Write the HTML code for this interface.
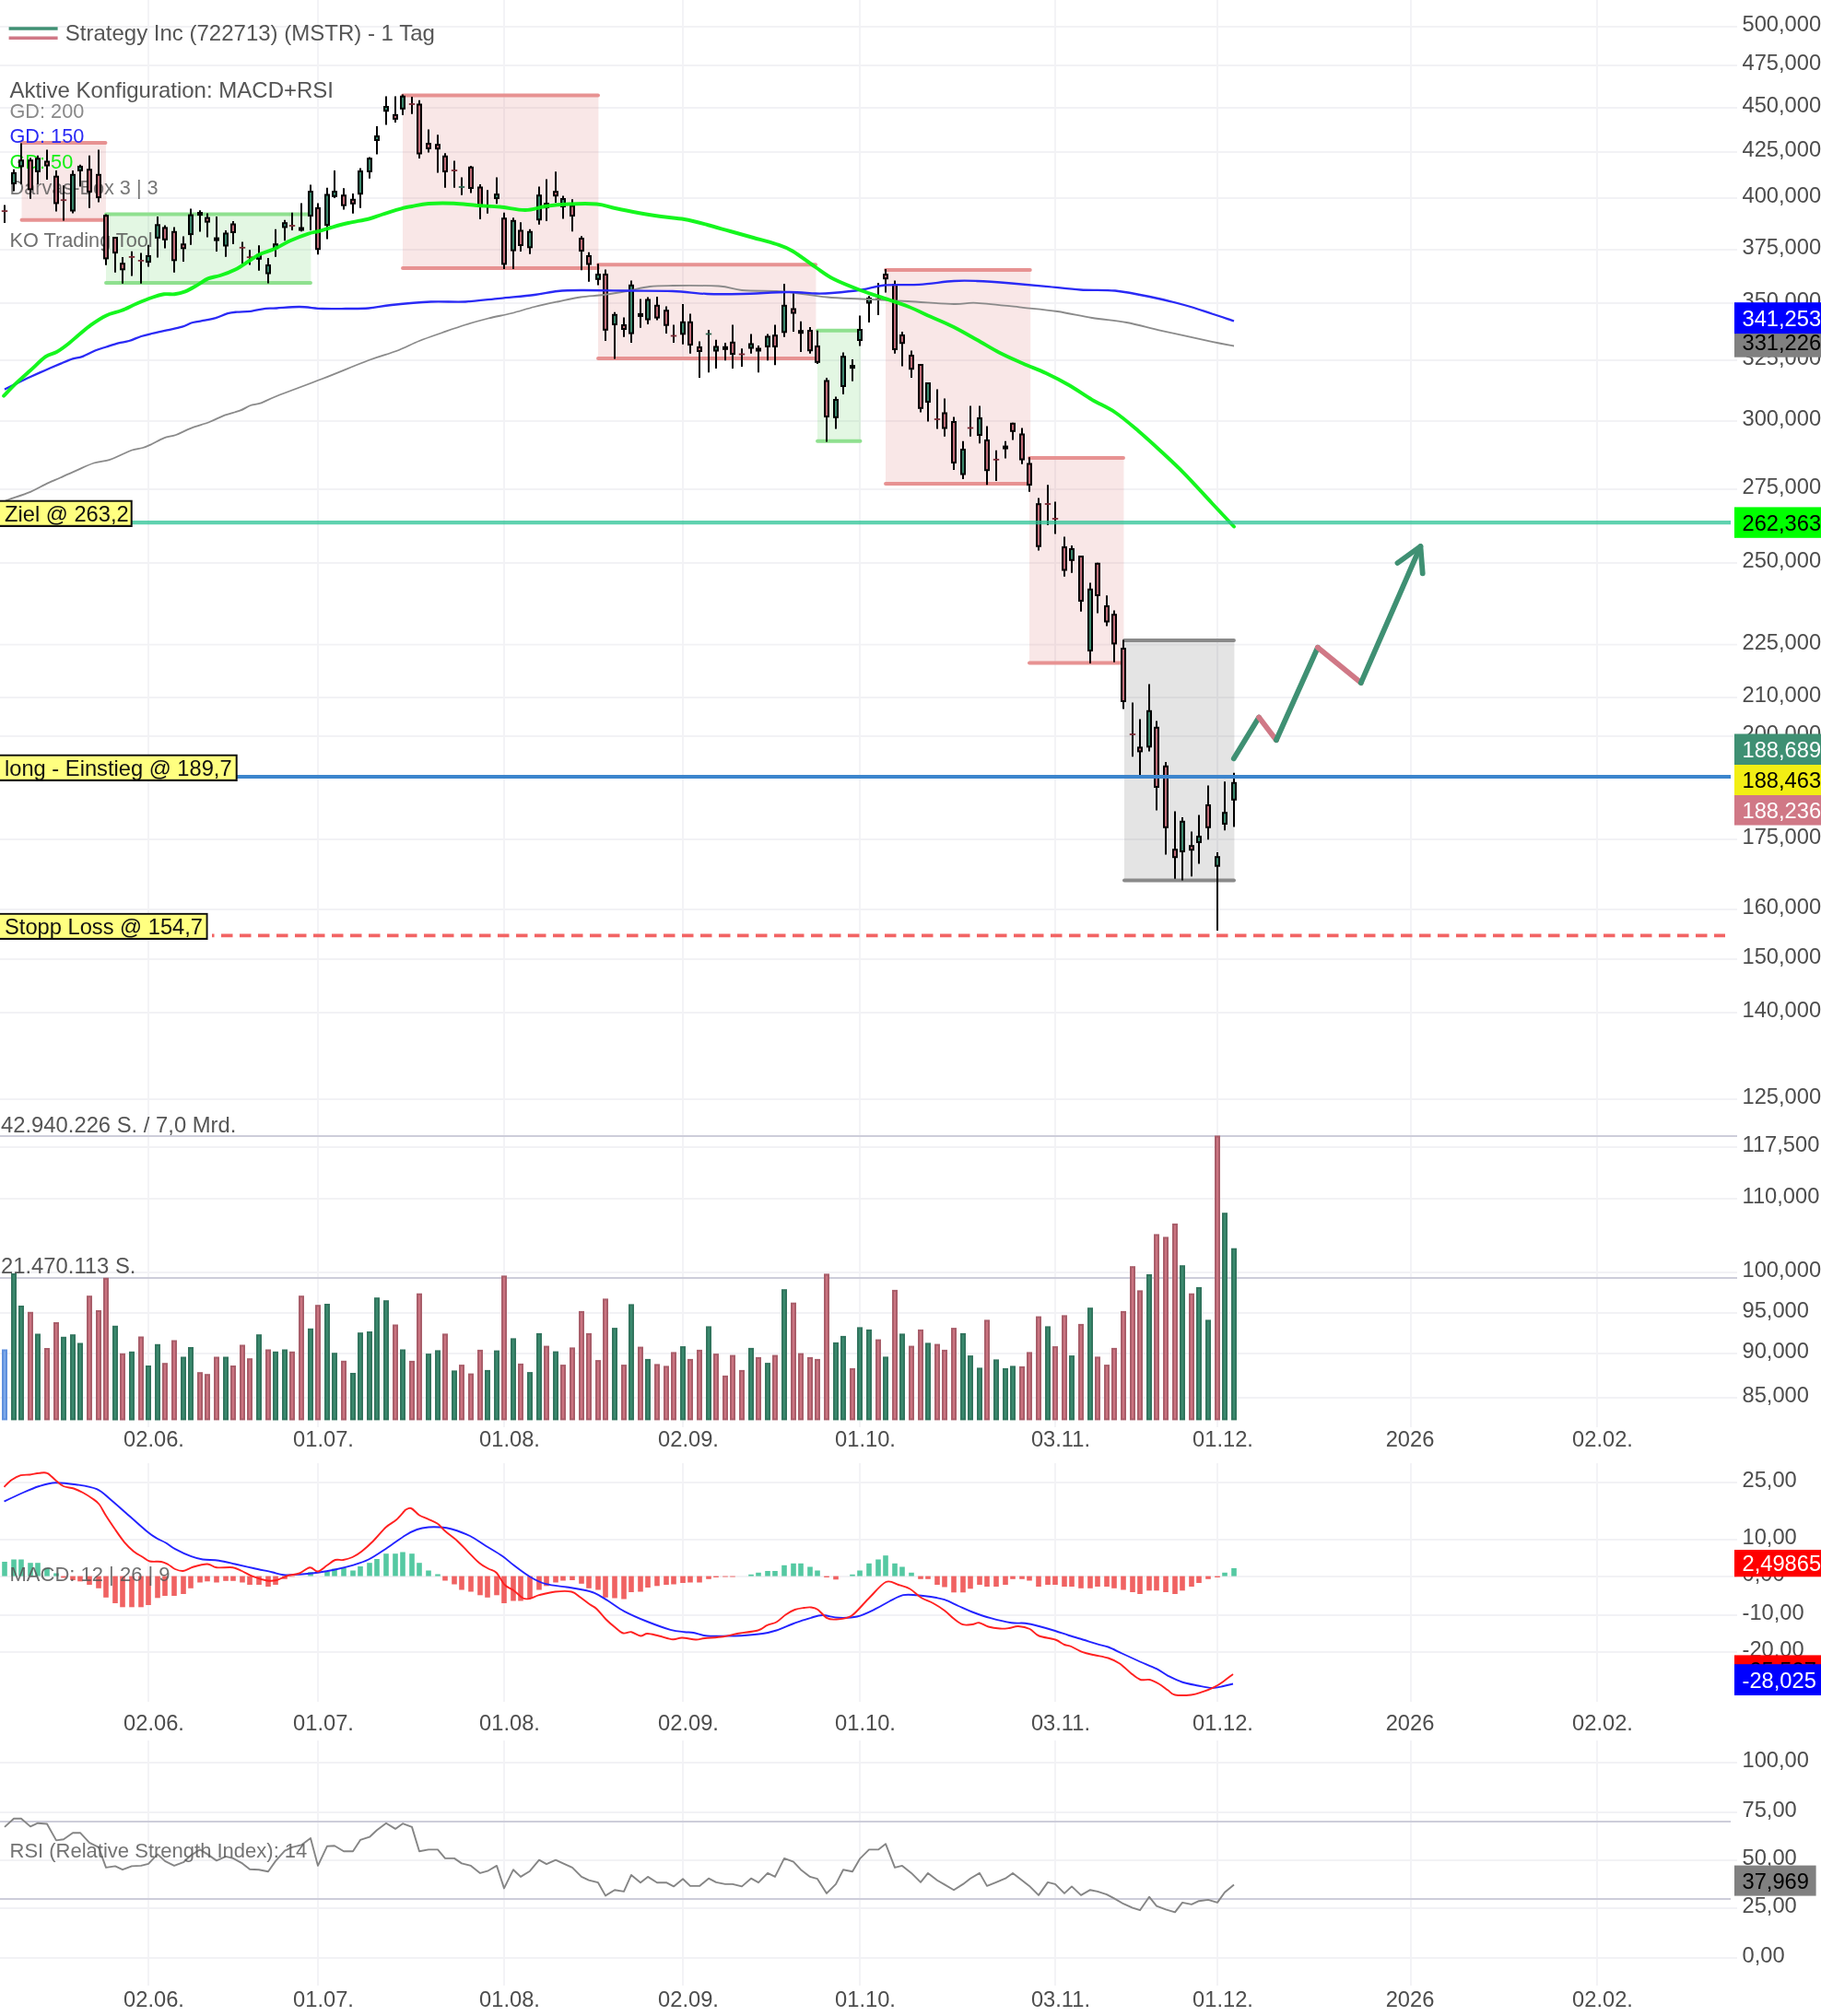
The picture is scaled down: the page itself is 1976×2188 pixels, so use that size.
<!DOCTYPE html>
<html lang="de"><head><meta charset="utf-8"><title>Strategy Inc (MSTR) Chart</title>
<style>html,body{margin:0;padding:0;background:#fff;}body{width:1976px;height:2188px;overflow:hidden;position:relative;}#chart{position:absolute;left:0;top:0;width:1976px;height:2188px;overflow:hidden;}#chart>svg{display:block;position:absolute;left:-10px;top:-10px;filter:blur(0.7px);}</style>
</head><body>
<div id="chart">
<svg width="1996" height="2208" viewBox="-10 -10 1996 2208">
<rect x="-10" y="-10" width="1996" height="2208" fill="#fff"/>
<g stroke="#f2f2f5" stroke-width="1.8" fill="none">
<line x1="-10" y1="29.0" x2="1885" y2="29.0"/>
<line x1="-10" y1="71.0" x2="1885" y2="71.0"/>
<line x1="-10" y1="117.0" x2="1885" y2="117.0"/>
<line x1="-10" y1="165.0" x2="1885" y2="165.0"/>
<line x1="-10" y1="215.0" x2="1885" y2="215.0"/>
<line x1="-10" y1="271.0" x2="1885" y2="271.0"/>
<line x1="-10" y1="329.0" x2="1885" y2="329.0"/>
<line x1="-10" y1="391.0" x2="1885" y2="391.0"/>
<line x1="-10" y1="457.0" x2="1885" y2="457.0"/>
<line x1="-10" y1="531.0" x2="1885" y2="531.0"/>
<line x1="-10" y1="611.0" x2="1885" y2="611.0"/>
<line x1="-10" y1="699.6" x2="1885" y2="699.6"/>
<line x1="-10" y1="757.0" x2="1885" y2="757.0"/>
<line x1="-10" y1="799.0" x2="1885" y2="799.0"/>
<line x1="-10" y1="911.0" x2="1885" y2="911.0"/>
<line x1="-10" y1="987.0" x2="1885" y2="987.0"/>
<line x1="-10" y1="1041.0" x2="1885" y2="1041.0"/>
<line x1="-10" y1="1099.0" x2="1885" y2="1099.0"/>
<line x1="-10" y1="1193.0" x2="1885" y2="1193.0"/>
<line x1="-10" y1="1245.0" x2="1885" y2="1245.0"/>
<line x1="-10" y1="1301.0" x2="1885" y2="1301.0"/>
<line x1="-10" y1="1381.0" x2="1885" y2="1381.0"/>
<line x1="-10" y1="1425.0" x2="1885" y2="1425.0"/>
<line x1="-10" y1="1469.0" x2="1885" y2="1469.0"/>
<line x1="-10" y1="1517.0" x2="1885" y2="1517.0"/>
<line x1="161" y1="-10" x2="161" y2="1549"/>
<line x1="161" y1="1588" x2="161" y2="1847"/>
<line x1="161" y1="1889" x2="161" y2="2155"/>
<line x1="345" y1="-10" x2="345" y2="1549"/>
<line x1="345" y1="1588" x2="345" y2="1847"/>
<line x1="345" y1="1889" x2="345" y2="2155"/>
<line x1="547" y1="-10" x2="547" y2="1549"/>
<line x1="547" y1="1588" x2="547" y2="1847"/>
<line x1="547" y1="1889" x2="547" y2="2155"/>
<line x1="741" y1="-10" x2="741" y2="1549"/>
<line x1="741" y1="1588" x2="741" y2="1847"/>
<line x1="741" y1="1889" x2="741" y2="2155"/>
<line x1="933" y1="-10" x2="933" y2="1549"/>
<line x1="933" y1="1588" x2="933" y2="1847"/>
<line x1="933" y1="1889" x2="933" y2="2155"/>
<line x1="1145" y1="-10" x2="1145" y2="1549"/>
<line x1="1145" y1="1588" x2="1145" y2="1847"/>
<line x1="1145" y1="1889" x2="1145" y2="2155"/>
<line x1="1321" y1="-10" x2="1321" y2="1549"/>
<line x1="1321" y1="1588" x2="1321" y2="1847"/>
<line x1="1321" y1="1889" x2="1321" y2="2155"/>
<line x1="1531" y1="-10" x2="1531" y2="1549"/>
<line x1="1531" y1="1588" x2="1531" y2="1847"/>
<line x1="1531" y1="1889" x2="1531" y2="2155"/>
<line x1="1733" y1="-10" x2="1733" y2="1549"/>
<line x1="1733" y1="1588" x2="1733" y2="1847"/>
<line x1="1733" y1="1889" x2="1733" y2="2155"/>
<line x1="-10" y1="1609.0" x2="1885" y2="1609.0"/>
<line x1="-10" y1="1671.0" x2="1885" y2="1671.0"/>
<line x1="-10" y1="1711.0" x2="1885" y2="1711.0"/>
<line x1="-10" y1="1753.0" x2="1885" y2="1753.0"/>
<line x1="-10" y1="1793.0" x2="1885" y2="1793.0"/>
<line x1="-10" y1="1913.0" x2="1885" y2="1913.0"/>
<line x1="-10" y1="1967.0" x2="1885" y2="1967.0"/>
<line x1="-10" y1="2019.0" x2="1885" y2="2019.0"/>
<line x1="-10" y1="2071.0" x2="1885" y2="2071.0"/>
<line x1="-10" y1="2125.0" x2="1885" y2="2125.0"/>
</g>
<g stroke="#cdcdda" stroke-width="2">
<line x1="-10" y1="1233" x2="1885" y2="1233"/>
<line x1="-10" y1="1387" x2="1885" y2="1387"/>
<line x1="-10" y1="1977.0" x2="1878" y2="1977.0"/>
<line x1="-10" y1="2061.0" x2="1878" y2="2061.0"/>
</g>
<rect x="23.5" y="155.0" width="91.4" height="83.8" fill="rgba(214,96,96,0.15)"/>
<rect x="115.0" y="232.5" width="222.4" height="74.5" fill="rgba(68,202,68,0.15)"/>
<rect x="437.0" y="103.5" width="212.4" height="187.5" fill="rgba(214,96,96,0.15)"/>
<rect x="649.0" y="287.3" width="236.4" height="101.7" fill="rgba(214,96,96,0.15)"/>
<rect x="887.0" y="358.8" width="46.9" height="120.0" fill="rgba(68,202,68,0.15)"/>
<rect x="961.0" y="293.0" width="157.2" height="232.0" fill="rgba(214,96,96,0.15)"/>
<rect x="1117.0" y="497.0" width="102.4" height="222.5" fill="rgba(214,96,96,0.15)"/>
<rect x="1220.0" y="695.0" width="119.4" height="260.5" fill="rgba(75,75,75,0.15)"/>
<g stroke="#e79292" stroke-width="3.9" stroke-linecap="round"><line x1="23.5" y1="155.0" x2="114.5" y2="155.0"/><line x1="23.5" y1="238.8" x2="114.5" y2="238.8"/></g>
<g stroke="#8fe08f" stroke-width="3.9" stroke-linecap="round"><line x1="115.0" y1="232.5" x2="337.0" y2="232.5"/><line x1="115.0" y1="307.0" x2="337.0" y2="307.0"/></g>
<g stroke="#e79292" stroke-width="3.9" stroke-linecap="round"><line x1="437.0" y1="103.5" x2="649.0" y2="103.5"/><line x1="437.0" y1="291.0" x2="649.0" y2="291.0"/></g>
<g stroke="#e79292" stroke-width="3.9" stroke-linecap="round"><line x1="649.0" y1="287.3" x2="885.0" y2="287.3"/><line x1="649.0" y1="389.0" x2="885.0" y2="389.0"/></g>
<g stroke="#8fe08f" stroke-width="3.9" stroke-linecap="round"><line x1="887.0" y1="358.8" x2="933.5" y2="358.8"/><line x1="887.0" y1="478.8" x2="933.5" y2="478.8"/></g>
<g stroke="#e79292" stroke-width="3.9" stroke-linecap="round"><line x1="961.0" y1="293.0" x2="1117.8" y2="293.0"/><line x1="961.0" y1="525.0" x2="1117.8" y2="525.0"/></g>
<g stroke="#e79292" stroke-width="3.9" stroke-linecap="round"><line x1="1117.0" y1="497.0" x2="1219.0" y2="497.0"/><line x1="1117.0" y1="719.5" x2="1219.0" y2="719.5"/></g>
<g stroke="#8a8a8a" stroke-width="3.9" stroke-linecap="round"><line x1="1220.0" y1="695.0" x2="1339.0" y2="695.0"/><line x1="1220.0" y1="955.5" x2="1339.0" y2="955.5"/></g>
<rect x="3.0" y="1465.5" width="4" height="74.9" fill="#7ba7e8" stroke="#5f90dd" stroke-width="2"/>
<rect x="13.0" y="1383.0" width="4" height="157.4" fill="#3a8a6e" stroke="#32755e" stroke-width="2"/>
<rect x="21.0" y="1418.0" width="4" height="122.4" fill="#3a8a6e" stroke="#32755e" stroke-width="2"/>
<rect x="31.0" y="1424.8" width="4" height="115.7" fill="#cb7380" stroke="#a95e6a" stroke-width="2"/>
<rect x="39.0" y="1448.5" width="4" height="91.9" fill="#3a8a6e" stroke="#32755e" stroke-width="2"/>
<rect x="49.0" y="1464.0" width="4" height="76.4" fill="#cb7380" stroke="#a95e6a" stroke-width="2"/>
<rect x="59.0" y="1436.0" width="4" height="104.4" fill="#cb7380" stroke="#a95e6a" stroke-width="2"/>
<rect x="67.0" y="1451.8" width="4" height="88.7" fill="#3a8a6e" stroke="#32755e" stroke-width="2"/>
<rect x="77.0" y="1449.2" width="4" height="91.2" fill="#3a8a6e" stroke="#32755e" stroke-width="2"/>
<rect x="85.0" y="1458.5" width="4" height="81.9" fill="#3a8a6e" stroke="#32755e" stroke-width="2"/>
<rect x="95.0" y="1407.2" width="4" height="133.2" fill="#cb7380" stroke="#a95e6a" stroke-width="2"/>
<rect x="105.0" y="1423.0" width="4" height="117.4" fill="#cb7380" stroke="#a95e6a" stroke-width="2"/>
<rect x="113.0" y="1387.8" width="4" height="152.7" fill="#cb7380" stroke="#a95e6a" stroke-width="2"/>
<rect x="123.0" y="1439.8" width="4" height="100.7" fill="#3a8a6e" stroke="#32755e" stroke-width="2"/>
<rect x="131.0" y="1469.8" width="4" height="70.7" fill="#cb7380" stroke="#a95e6a" stroke-width="2"/>
<rect x="141.0" y="1467.8" width="4" height="72.7" fill="#3a8a6e" stroke="#32755e" stroke-width="2"/>
<rect x="151.0" y="1451.5" width="4" height="88.9" fill="#cb7380" stroke="#a95e6a" stroke-width="2"/>
<rect x="159.0" y="1483.0" width="4" height="57.4" fill="#3a8a6e" stroke="#32755e" stroke-width="2"/>
<rect x="169.0" y="1459.8" width="4" height="80.7" fill="#3a8a6e" stroke="#32755e" stroke-width="2"/>
<rect x="177.0" y="1480.2" width="4" height="60.2" fill="#cb7380" stroke="#a95e6a" stroke-width="2"/>
<rect x="187.0" y="1455.5" width="4" height="84.9" fill="#cb7380" stroke="#a95e6a" stroke-width="2"/>
<rect x="197.0" y="1473.5" width="4" height="66.9" fill="#3a8a6e" stroke="#32755e" stroke-width="2"/>
<rect x="205.0" y="1463.0" width="4" height="77.4" fill="#3a8a6e" stroke="#32755e" stroke-width="2"/>
<rect x="215.0" y="1490.2" width="4" height="50.2" fill="#cb7380" stroke="#a95e6a" stroke-width="2"/>
<rect x="223.0" y="1492.2" width="4" height="48.2" fill="#cb7380" stroke="#a95e6a" stroke-width="2"/>
<rect x="233.0" y="1473.5" width="4" height="66.9" fill="#cb7380" stroke="#a95e6a" stroke-width="2"/>
<rect x="243.0" y="1473.5" width="4" height="66.9" fill="#3a8a6e" stroke="#32755e" stroke-width="2"/>
<rect x="251.0" y="1483.0" width="4" height="57.4" fill="#cb7380" stroke="#a95e6a" stroke-width="2"/>
<rect x="261.0" y="1460.5" width="4" height="79.9" fill="#cb7380" stroke="#a95e6a" stroke-width="2"/>
<rect x="269.0" y="1475.2" width="4" height="65.2" fill="#cb7380" stroke="#a95e6a" stroke-width="2"/>
<rect x="279.0" y="1449.2" width="4" height="91.2" fill="#3a8a6e" stroke="#32755e" stroke-width="2"/>
<rect x="289.0" y="1465.5" width="4" height="74.9" fill="#cb7380" stroke="#a95e6a" stroke-width="2"/>
<rect x="297.0" y="1467.8" width="4" height="72.7" fill="#3a8a6e" stroke="#32755e" stroke-width="2"/>
<rect x="307.0" y="1465.5" width="4" height="74.9" fill="#3a8a6e" stroke="#32755e" stroke-width="2"/>
<rect x="315.0" y="1467.8" width="4" height="72.7" fill="#cb7380" stroke="#a95e6a" stroke-width="2"/>
<rect x="325.0" y="1407.2" width="4" height="133.2" fill="#cb7380" stroke="#a95e6a" stroke-width="2"/>
<rect x="335.0" y="1442.8" width="4" height="97.7" fill="#3a8a6e" stroke="#32755e" stroke-width="2"/>
<rect x="343.0" y="1417.2" width="4" height="123.2" fill="#cb7380" stroke="#a95e6a" stroke-width="2"/>
<rect x="353.0" y="1416.0" width="4" height="124.4" fill="#3a8a6e" stroke="#32755e" stroke-width="2"/>
<rect x="361.0" y="1469.2" width="4" height="71.2" fill="#3a8a6e" stroke="#32755e" stroke-width="2"/>
<rect x="371.0" y="1477.8" width="4" height="62.7" fill="#cb7380" stroke="#a95e6a" stroke-width="2"/>
<rect x="381.0" y="1491.0" width="4" height="49.4" fill="#3a8a6e" stroke="#32755e" stroke-width="2"/>
<rect x="389.0" y="1447.2" width="4" height="93.2" fill="#3a8a6e" stroke="#32755e" stroke-width="2"/>
<rect x="399.0" y="1446.0" width="4" height="94.4" fill="#3a8a6e" stroke="#32755e" stroke-width="2"/>
<rect x="407.0" y="1409.2" width="4" height="131.2" fill="#3a8a6e" stroke="#32755e" stroke-width="2"/>
<rect x="417.0" y="1412.2" width="4" height="128.2" fill="#3a8a6e" stroke="#32755e" stroke-width="2"/>
<rect x="427.0" y="1438.5" width="4" height="101.9" fill="#cb7380" stroke="#a95e6a" stroke-width="2"/>
<rect x="435.0" y="1465.5" width="4" height="74.9" fill="#3a8a6e" stroke="#32755e" stroke-width="2"/>
<rect x="445.0" y="1477.9" width="4" height="62.5" fill="#cb7380" stroke="#a95e6a" stroke-width="2"/>
<rect x="453.0" y="1404.7" width="4" height="135.7" fill="#cb7380" stroke="#a95e6a" stroke-width="2"/>
<rect x="463.0" y="1470.1" width="4" height="70.3" fill="#3a8a6e" stroke="#32755e" stroke-width="2"/>
<rect x="473.0" y="1466.4" width="4" height="74.0" fill="#3a8a6e" stroke="#32755e" stroke-width="2"/>
<rect x="481.0" y="1448.4" width="4" height="92.0" fill="#cb7380" stroke="#a95e6a" stroke-width="2"/>
<rect x="491.0" y="1488.4" width="4" height="52.0" fill="#3a8a6e" stroke="#32755e" stroke-width="2"/>
<rect x="499.0" y="1482.1" width="4" height="58.3" fill="#cb7380" stroke="#a95e6a" stroke-width="2"/>
<rect x="509.0" y="1491.6" width="4" height="48.8" fill="#cb7380" stroke="#a95e6a" stroke-width="2"/>
<rect x="519.0" y="1465.9" width="4" height="74.5" fill="#cb7380" stroke="#a95e6a" stroke-width="2"/>
<rect x="527.0" y="1487.9" width="4" height="52.5" fill="#3a8a6e" stroke="#32755e" stroke-width="2"/>
<rect x="537.0" y="1466.6" width="4" height="73.8" fill="#3a8a6e" stroke="#32755e" stroke-width="2"/>
<rect x="545.0" y="1385.4" width="4" height="155.0" fill="#cb7380" stroke="#a95e6a" stroke-width="2"/>
<rect x="555.0" y="1453.4" width="4" height="87.0" fill="#3a8a6e" stroke="#32755e" stroke-width="2"/>
<rect x="563.0" y="1480.9" width="4" height="59.5" fill="#cb7380" stroke="#a95e6a" stroke-width="2"/>
<rect x="573.0" y="1490.1" width="4" height="50.3" fill="#3a8a6e" stroke="#32755e" stroke-width="2"/>
<rect x="583.0" y="1447.9" width="4" height="92.5" fill="#3a8a6e" stroke="#32755e" stroke-width="2"/>
<rect x="591.0" y="1461.6" width="4" height="78.8" fill="#cb7380" stroke="#a95e6a" stroke-width="2"/>
<rect x="601.0" y="1467.6" width="4" height="72.8" fill="#3a8a6e" stroke="#32755e" stroke-width="2"/>
<rect x="609.0" y="1482.1" width="4" height="58.3" fill="#cb7380" stroke="#a95e6a" stroke-width="2"/>
<rect x="619.0" y="1463.4" width="4" height="77.0" fill="#cb7380" stroke="#a95e6a" stroke-width="2"/>
<rect x="629.0" y="1423.9" width="4" height="116.5" fill="#cb7380" stroke="#a95e6a" stroke-width="2"/>
<rect x="637.0" y="1447.9" width="4" height="92.5" fill="#cb7380" stroke="#a95e6a" stroke-width="2"/>
<rect x="647.0" y="1477.1" width="4" height="63.3" fill="#cb7380" stroke="#a95e6a" stroke-width="2"/>
<rect x="655.0" y="1410.4" width="4" height="130.0" fill="#cb7380" stroke="#a95e6a" stroke-width="2"/>
<rect x="665.0" y="1442.1" width="4" height="98.3" fill="#3a8a6e" stroke="#32755e" stroke-width="2"/>
<rect x="675.0" y="1482.1" width="4" height="58.3" fill="#cb7380" stroke="#a95e6a" stroke-width="2"/>
<rect x="683.0" y="1416.4" width="4" height="124.0" fill="#3a8a6e" stroke="#32755e" stroke-width="2"/>
<rect x="693.0" y="1462.6" width="4" height="77.8" fill="#cb7380" stroke="#a95e6a" stroke-width="2"/>
<rect x="701.0" y="1475.9" width="4" height="64.5" fill="#3a8a6e" stroke="#32755e" stroke-width="2"/>
<rect x="711.0" y="1481.4" width="4" height="59.0" fill="#cb7380" stroke="#a95e6a" stroke-width="2"/>
<rect x="721.0" y="1483.4" width="4" height="57.0" fill="#cb7380" stroke="#a95e6a" stroke-width="2"/>
<rect x="729.0" y="1468.4" width="4" height="72.0" fill="#cb7380" stroke="#a95e6a" stroke-width="2"/>
<rect x="739.0" y="1462.1" width="4" height="78.3" fill="#3a8a6e" stroke="#32755e" stroke-width="2"/>
<rect x="747.0" y="1475.9" width="4" height="64.5" fill="#cb7380" stroke="#a95e6a" stroke-width="2"/>
<rect x="757.0" y="1465.9" width="4" height="74.5" fill="#cb7380" stroke="#a95e6a" stroke-width="2"/>
<rect x="767.0" y="1440.4" width="4" height="100.0" fill="#3a8a6e" stroke="#32755e" stroke-width="2"/>
<rect x="775.0" y="1470.1" width="4" height="70.3" fill="#cb7380" stroke="#a95e6a" stroke-width="2"/>
<rect x="785.0" y="1493.9" width="4" height="46.5" fill="#cb7380" stroke="#a95e6a" stroke-width="2"/>
<rect x="793.0" y="1471.6" width="4" height="68.8" fill="#cb7380" stroke="#a95e6a" stroke-width="2"/>
<rect x="803.0" y="1487.9" width="4" height="52.5" fill="#cb7380" stroke="#a95e6a" stroke-width="2"/>
<rect x="813.0" y="1463.9" width="4" height="76.5" fill="#3a8a6e" stroke="#32755e" stroke-width="2"/>
<rect x="821.0" y="1473.9" width="4" height="66.5" fill="#cb7380" stroke="#a95e6a" stroke-width="2"/>
<rect x="831.0" y="1480.1" width="4" height="60.3" fill="#3a8a6e" stroke="#32755e" stroke-width="2"/>
<rect x="839.0" y="1471.6" width="4" height="68.8" fill="#cb7380" stroke="#a95e6a" stroke-width="2"/>
<rect x="849.0" y="1400.2" width="4" height="140.2" fill="#3a8a6e" stroke="#32755e" stroke-width="2"/>
<rect x="859.0" y="1414.7" width="4" height="125.7" fill="#cb7380" stroke="#a95e6a" stroke-width="2"/>
<rect x="867.0" y="1469.6" width="4" height="70.8" fill="#cb7380" stroke="#a95e6a" stroke-width="2"/>
<rect x="877.0" y="1473.9" width="4" height="66.5" fill="#cb7380" stroke="#a95e6a" stroke-width="2"/>
<rect x="885.0" y="1475.9" width="4" height="64.5" fill="#cb7380" stroke="#a95e6a" stroke-width="2"/>
<rect x="895.0" y="1383.4" width="4" height="157.0" fill="#cb7380" stroke="#a95e6a" stroke-width="2"/>
<rect x="905.0" y="1457.9" width="4" height="82.5" fill="#3a8a6e" stroke="#32755e" stroke-width="2"/>
<rect x="913.0" y="1450.9" width="4" height="89.5" fill="#3a8a6e" stroke="#32755e" stroke-width="2"/>
<rect x="923.0" y="1485.9" width="4" height="54.5" fill="#cb7380" stroke="#a95e6a" stroke-width="2"/>
<rect x="931.0" y="1441.4" width="4" height="99.0" fill="#3a8a6e" stroke="#32755e" stroke-width="2"/>
<rect x="941.0" y="1443.9" width="4" height="96.5" fill="#3a8a6e" stroke="#32755e" stroke-width="2"/>
<rect x="951.0" y="1454.6" width="4" height="85.8" fill="#cb7380" stroke="#a95e6a" stroke-width="2"/>
<rect x="959.0" y="1473.4" width="4" height="67.0" fill="#3a8a6e" stroke="#32755e" stroke-width="2"/>
<rect x="969.0" y="1400.9" width="4" height="139.5" fill="#cb7380" stroke="#a95e6a" stroke-width="2"/>
<rect x="977.0" y="1448.4" width="4" height="92.0" fill="#3a8a6e" stroke="#32755e" stroke-width="2"/>
<rect x="987.0" y="1461.6" width="4" height="78.8" fill="#cb7380" stroke="#a95e6a" stroke-width="2"/>
<rect x="997.0" y="1443.9" width="4" height="96.5" fill="#cb7380" stroke="#a95e6a" stroke-width="2"/>
<rect x="1005.0" y="1458.4" width="4" height="82.0" fill="#3a8a6e" stroke="#32755e" stroke-width="2"/>
<rect x="1015.0" y="1459.6" width="4" height="80.8" fill="#cb7380" stroke="#a95e6a" stroke-width="2"/>
<rect x="1023.0" y="1465.9" width="4" height="74.5" fill="#cb7380" stroke="#a95e6a" stroke-width="2"/>
<rect x="1033.0" y="1442.1" width="4" height="98.3" fill="#cb7380" stroke="#a95e6a" stroke-width="2"/>
<rect x="1043.0" y="1447.9" width="4" height="92.5" fill="#3a8a6e" stroke="#32755e" stroke-width="2"/>
<rect x="1051.0" y="1472.1" width="4" height="68.3" fill="#3a8a6e" stroke="#32755e" stroke-width="2"/>
<rect x="1061.0" y="1485.4" width="4" height="55.0" fill="#3a8a6e" stroke="#32755e" stroke-width="2"/>
<rect x="1069.0" y="1433.4" width="4" height="107.0" fill="#cb7380" stroke="#a95e6a" stroke-width="2"/>
<rect x="1079.0" y="1476.4" width="4" height="64.0" fill="#3a8a6e" stroke="#32755e" stroke-width="2"/>
<rect x="1089.0" y="1485.9" width="4" height="54.5" fill="#3a8a6e" stroke="#32755e" stroke-width="2"/>
<rect x="1097.0" y="1483.4" width="4" height="57.0" fill="#3a8a6e" stroke="#32755e" stroke-width="2"/>
<rect x="1107.0" y="1483.9" width="4" height="56.5" fill="#cb7380" stroke="#a95e6a" stroke-width="2"/>
<rect x="1115.0" y="1468.4" width="4" height="72.0" fill="#cb7380" stroke="#a95e6a" stroke-width="2"/>
<rect x="1125.0" y="1429.6" width="4" height="110.8" fill="#cb7380" stroke="#a95e6a" stroke-width="2"/>
<rect x="1135.0" y="1440.4" width="4" height="100.0" fill="#3a8a6e" stroke="#32755e" stroke-width="2"/>
<rect x="1143.0" y="1462.1" width="4" height="78.3" fill="#cb7380" stroke="#a95e6a" stroke-width="2"/>
<rect x="1153.0" y="1428.4" width="4" height="112.0" fill="#cb7380" stroke="#a95e6a" stroke-width="2"/>
<rect x="1161.0" y="1472.1" width="4" height="68.3" fill="#3a8a6e" stroke="#32755e" stroke-width="2"/>
<rect x="1171.0" y="1437.9" width="4" height="102.5" fill="#cb7380" stroke="#a95e6a" stroke-width="2"/>
<rect x="1181.0" y="1420.2" width="4" height="120.2" fill="#3a8a6e" stroke="#32755e" stroke-width="2"/>
<rect x="1189.0" y="1473.4" width="4" height="67.0" fill="#cb7380" stroke="#a95e6a" stroke-width="2"/>
<rect x="1199.0" y="1482.1" width="4" height="58.3" fill="#cb7380" stroke="#a95e6a" stroke-width="2"/>
<rect x="1207.0" y="1463.9" width="4" height="76.5" fill="#cb7380" stroke="#a95e6a" stroke-width="2"/>
<rect x="1217.0" y="1423.9" width="4" height="116.5" fill="#cb7380" stroke="#a95e6a" stroke-width="2"/>
<rect x="1227.0" y="1375.2" width="4" height="165.2" fill="#cb7380" stroke="#a95e6a" stroke-width="2"/>
<rect x="1235.0" y="1401.4" width="4" height="139.0" fill="#cb7380" stroke="#a95e6a" stroke-width="2"/>
<rect x="1245.0" y="1383.9" width="4" height="156.5" fill="#3a8a6e" stroke="#32755e" stroke-width="2"/>
<rect x="1253.0" y="1340.4" width="4" height="200.0" fill="#cb7380" stroke="#a95e6a" stroke-width="2"/>
<rect x="1263.0" y="1343.4" width="4" height="197.0" fill="#cb7380" stroke="#a95e6a" stroke-width="2"/>
<rect x="1273.0" y="1328.9" width="4" height="211.5" fill="#cb7380" stroke="#a95e6a" stroke-width="2"/>
<rect x="1281.0" y="1374.2" width="4" height="166.2" fill="#3a8a6e" stroke="#32755e" stroke-width="2"/>
<rect x="1291.0" y="1404.7" width="4" height="135.7" fill="#cb7380" stroke="#a95e6a" stroke-width="2"/>
<rect x="1299.0" y="1397.9" width="4" height="142.5" fill="#3a8a6e" stroke="#32755e" stroke-width="2"/>
<rect x="1309.0" y="1433.4" width="4" height="107.0" fill="#3a8a6e" stroke="#32755e" stroke-width="2"/>
<rect x="1319.0" y="1233.5" width="4" height="306.9" fill="#cb7380" stroke="#a95e6a" stroke-width="2"/>
<rect x="1327.0" y="1317.2" width="4" height="223.2" fill="#3a8a6e" stroke="#32755e" stroke-width="2"/>
<rect x="1337.0" y="1355.7" width="4" height="184.7" fill="#3a8a6e" stroke="#32755e" stroke-width="2"/>
<g font-family='"Liberation Sans", sans-serif'>
<line x1="9.6" y1="31" x2="62.6" y2="31" stroke="#3f9073" stroke-width="3.4"/>
<line x1="9.6" y1="41.2" x2="62.6" y2="41.2" stroke="#d07886" stroke-width="3.4"/>
<text id="t_title" x="70.8" y="44" font-size="24" fill="#555">Strategy Inc (722713) (MSTR) - 1 Tag</text>
<text id="t_akt" x="10.5" y="105.5" font-size="24" fill="#555">Aktive Konfiguration: MACD+RSI</text>
<text id="t_gd200" x="10.5" y="127.5" font-size="21.7" fill="#8a8a8a">GD: 200</text>
<text id="t_gd150" x="10.5" y="155" font-size="21.7" fill="#2a2af5">GD: 150</text>
<text id="t_gd50" x="10.5" y="183" font-size="21.7" fill="#14f014">GD: 50</text>
<text id="t_darvas" x="10.5" y="211" font-size="21.7" fill="#555" fill-opacity="0.8">Darvas-Box 3 | 3</text>
<text id="t_ko" x="10.5" y="267.5" font-size="21.7" fill="#555" fill-opacity="0.85">KO Trading Tool</text>
<text id="t_v1" x="1" y="1228.8" font-size="23.8" fill="#555">42.940.226 S. / 7,0 Mrd.</text>
<text id="t_v2" x="1" y="1382" font-size="23.8" fill="#555">21.470.113 S.</text>
</g>
<g stroke="#000" stroke-width="2" stroke-linecap="butt">
<line x1="5.0" y1="222.6" x2="5.0" y2="242.0"/>
<line x1="1.8" y1="229.1" x2="8.2" y2="229.1" stroke="#7a2a35" stroke-width="1.8"/>
<line x1="15.0" y1="183.8" x2="15.0" y2="207.6"/>
<rect x="13.0" y="187.9" width="4" height="11.1" fill="#3a866b" stroke-width="2"/>
<line x1="23.0" y1="155.6" x2="23.0" y2="200.1"/>
<rect x="21.0" y="174.2" width="4" height="6.1" fill="#3a866b" stroke-width="2"/>
<line x1="33.0" y1="171.3" x2="33.0" y2="215.7"/>
<rect x="31.0" y="174.2" width="4" height="31.2" fill="#be6b77" stroke-width="2"/>
<line x1="41.0" y1="168.8" x2="41.0" y2="200.1"/>
<rect x="39.0" y="172.3" width="4" height="13.6" fill="#3a866b" stroke-width="2"/>
<line x1="51.0" y1="162.5" x2="51.0" y2="195.1"/>
<rect x="49.0" y="175.5" width="4" height="4.0" fill="#be6b77" stroke-width="2"/>
<line x1="61.0" y1="185.1" x2="61.0" y2="229.5"/>
<rect x="59.0" y="191.7" width="4" height="28.7" fill="#be6b77" stroke-width="2"/>
<line x1="69.0" y1="201.3" x2="69.0" y2="239.5"/>
<line x1="65.8" y1="217.2" x2="72.2" y2="217.2" stroke="#7a2a35" stroke-width="1.8"/>
<line x1="79.0" y1="185.1" x2="79.0" y2="231.4"/>
<rect x="77.0" y="189.8" width="4" height="38.7" fill="#3a866b" stroke-width="2"/>
<line x1="87.0" y1="178.8" x2="87.0" y2="202.6"/>
<rect x="85.0" y="180.9" width="4" height="4.0" fill="#3a866b" stroke-width="2"/>
<line x1="97.0" y1="168.8" x2="97.0" y2="225.7"/>
<rect x="95.0" y="184.2" width="4" height="23.7" fill="#be6b77" stroke-width="2"/>
<line x1="107.0" y1="162.5" x2="107.0" y2="219.5"/>
<rect x="105.0" y="189.8" width="4" height="24.3" fill="#be6b77" stroke-width="2"/>
<line x1="115.0" y1="232.6" x2="115.0" y2="287.7"/>
<rect x="113.0" y="234.2" width="4" height="46.2" fill="#be6b77" stroke-width="2"/>
<line x1="125.0" y1="257.0" x2="125.0" y2="295.8"/>
<rect x="123.0" y="258.0" width="4" height="16.1" fill="#be6b77" stroke-width="2"/>
<line x1="133.0" y1="278.9" x2="133.0" y2="307.7"/>
<rect x="131.0" y="286.2" width="4" height="6.1" fill="#be6b77" stroke-width="2"/>
<line x1="143.0" y1="272.7" x2="143.0" y2="299.6"/>
<line x1="139.8" y1="278.9" x2="146.2" y2="278.9" stroke="#7a2a35" stroke-width="1.8"/>
<line x1="153.0" y1="274.5" x2="153.0" y2="307.7"/>
<line x1="149.8" y1="282.9" x2="156.2" y2="282.9" stroke="#7a2a35" stroke-width="1.8"/>
<line x1="161.0" y1="265.8" x2="161.0" y2="289.6"/>
<rect x="159.0" y="278.0" width="4" height="6.1" fill="#3a866b" stroke-width="2"/>
<line x1="171.0" y1="235.1" x2="171.0" y2="279.5"/>
<rect x="169.0" y="244.3" width="4" height="13.6" fill="#3a866b" stroke-width="2"/>
<line x1="179.0" y1="244.5" x2="179.0" y2="269.5"/>
<rect x="177.0" y="247.4" width="4" height="12.4" fill="#be6b77" stroke-width="2"/>
<line x1="189.0" y1="246.4" x2="189.0" y2="295.8"/>
<rect x="187.0" y="251.8" width="4" height="30.5" fill="#be6b77" stroke-width="2"/>
<line x1="199.0" y1="256.4" x2="199.0" y2="283.9"/>
<rect x="197.0" y="265.3" width="4" height="4.0" fill="#be6b77" stroke-width="2"/>
<line x1="207.0" y1="226.4" x2="207.0" y2="265.8"/>
<rect x="205.0" y="233.6" width="4" height="20.5" fill="#3a866b" stroke-width="2"/>
<line x1="217.0" y1="228.2" x2="217.0" y2="251.4"/>
<rect x="215.0" y="231.0" width="4" height="2.0" fill="#000000" stroke-width="2"/>
<line x1="225.0" y1="231.4" x2="225.0" y2="257.6"/>
<rect x="223.0" y="236.6" width="4" height="4.0" fill="#be6b77" stroke-width="2"/>
<line x1="235.0" y1="235.0" x2="235.0" y2="273.0"/>
<rect x="233.0" y="258.6" width="4" height="2.0" fill="#000000" stroke-width="2"/>
<line x1="245.0" y1="250.0" x2="245.0" y2="278.8"/>
<rect x="243.0" y="253.5" width="4" height="13.0" fill="#3a866b" stroke-width="2"/>
<line x1="253.0" y1="240.0" x2="253.0" y2="265.0"/>
<rect x="251.0" y="243.5" width="4" height="8.5" fill="#be6b77" stroke-width="2"/>
<line x1="263.0" y1="262.5" x2="263.0" y2="286.2"/>
<line x1="259.8" y1="268.8" x2="266.2" y2="268.8" stroke="#7a2a35" stroke-width="1.8"/>
<line x1="271.0" y1="271.2" x2="271.0" y2="287.5"/>
<line x1="267.8" y1="279.2" x2="274.2" y2="279.2" stroke="#7a2a35" stroke-width="1.8"/>
<line x1="281.0" y1="266.2" x2="281.0" y2="293.8"/>
<rect x="279.0" y="276.8" width="4" height="4.0" fill="#3a866b" stroke-width="2"/>
<line x1="291.0" y1="280.0" x2="291.0" y2="307.5"/>
<rect x="289.0" y="288.0" width="4" height="8.5" fill="#3a866b" stroke-width="2"/>
<line x1="299.0" y1="248.8" x2="299.0" y2="278.8"/>
<rect x="297.0" y="265.2" width="4" height="4.0" fill="#3a866b" stroke-width="2"/>
<line x1="309.0" y1="238.8" x2="309.0" y2="261.2"/>
<rect x="307.0" y="242.2" width="4" height="4.2" fill="#3a866b" stroke-width="2"/>
<line x1="317.0" y1="230.8" x2="317.0" y2="250.0"/>
<line x1="313.8" y1="245.0" x2="320.2" y2="245.0" stroke="#7a2a35" stroke-width="1.8"/>
<line x1="327.0" y1="220.5" x2="327.0" y2="251.2"/>
<rect x="325.0" y="247.5" width="4" height="2.0" fill="#000000" stroke-width="2"/>
<line x1="337.0" y1="200.5" x2="337.0" y2="250.0"/>
<rect x="335.0" y="208.0" width="4" height="26.0" fill="#3a866b" stroke-width="2"/>
<line x1="345.0" y1="220.5" x2="345.0" y2="276.2"/>
<rect x="343.0" y="226.0" width="4" height="44.2" fill="#be6b77" stroke-width="2"/>
<line x1="355.0" y1="203.8" x2="355.0" y2="259.5"/>
<rect x="353.0" y="211.5" width="4" height="32.5" fill="#3a866b" stroke-width="2"/>
<line x1="363.0" y1="185.0" x2="363.0" y2="215.0"/>
<rect x="361.0" y="208.0" width="4" height="4.8" fill="#3a866b" stroke-width="2"/>
<line x1="373.0" y1="204.2" x2="373.0" y2="227.5"/>
<rect x="371.0" y="212.2" width="4" height="10.5" fill="#be6b77" stroke-width="2"/>
<line x1="383.0" y1="210.0" x2="383.0" y2="231.8"/>
<rect x="381.0" y="216.8" width="4" height="4.0" fill="#be6b77" stroke-width="2"/>
<line x1="391.0" y1="182.5" x2="391.0" y2="225.8"/>
<rect x="389.0" y="186.0" width="4" height="24.2" fill="#3a866b" stroke-width="2"/>
<line x1="401.0" y1="170.5" x2="401.0" y2="193.8"/>
<rect x="399.0" y="172.2" width="4" height="13.8" fill="#3a866b" stroke-width="2"/>
<line x1="409.0" y1="137.0" x2="409.0" y2="167.5"/>
<rect x="407.0" y="148.0" width="4" height="4.0" fill="#3a866b" stroke-width="2"/>
<line x1="419.0" y1="104.5" x2="419.0" y2="135.5"/>
<rect x="417.0" y="116.0" width="4" height="4.2" fill="#3a866b" stroke-width="2"/>
<line x1="429.0" y1="104.5" x2="429.0" y2="133.0"/>
<rect x="427.0" y="124.9" width="4" height="4.0" fill="#be6b77" stroke-width="2"/>
<line x1="437.0" y1="102.5" x2="437.0" y2="125.0"/>
<rect x="435.0" y="104.8" width="4" height="13.0" fill="#3a866b" stroke-width="2"/>
<line x1="447.0" y1="105.0" x2="447.0" y2="123.8"/>
<line x1="443.8" y1="113.0" x2="450.2" y2="113.0" stroke="#7a2a35" stroke-width="1.8"/>
<line x1="455.0" y1="108.8" x2="455.0" y2="172.0"/>
<rect x="453.0" y="113.5" width="4" height="53.0" fill="#be6b77" stroke-width="2"/>
<line x1="465.0" y1="140.5" x2="465.0" y2="165.5"/>
<rect x="463.0" y="156.0" width="4" height="5.0" fill="#be6b77" stroke-width="2"/>
<line x1="475.0" y1="146.2" x2="475.0" y2="187.5"/>
<rect x="473.0" y="157.2" width="4" height="4.0" fill="#be6b77" stroke-width="2"/>
<line x1="483.0" y1="166.2" x2="483.0" y2="203.8"/>
<rect x="481.0" y="169.8" width="4" height="16.2" fill="#be6b77" stroke-width="2"/>
<line x1="493.0" y1="174.5" x2="493.0" y2="203.8"/>
<line x1="489.8" y1="185.0" x2="496.2" y2="185.0" stroke="#7a2a35" stroke-width="1.8"/>
<line x1="501.0" y1="192.5" x2="501.0" y2="211.8"/>
<line x1="497.8" y1="203.0" x2="504.2" y2="203.0" stroke="#2d6650" stroke-width="1.8"/>
<line x1="511.0" y1="180.0" x2="511.0" y2="209.5"/>
<rect x="509.0" y="181.8" width="4" height="22.2" fill="#be6b77" stroke-width="2"/>
<line x1="521.0" y1="200.0" x2="521.0" y2="238.0"/>
<rect x="519.0" y="203.5" width="4" height="20.5" fill="#be6b77" stroke-width="2"/>
<line x1="529.0" y1="206.2" x2="529.0" y2="231.8"/>
<line x1="525.8" y1="224.2" x2="532.2" y2="224.2" stroke="#7a2a35" stroke-width="1.8"/>
<line x1="539.0" y1="192.5" x2="539.0" y2="221.2"/>
<rect x="537.0" y="211.1" width="4" height="4.0" fill="#3a866b" stroke-width="2"/>
<line x1="547.0" y1="230.8" x2="547.0" y2="292.0"/>
<rect x="545.0" y="237.2" width="4" height="49.2" fill="#be6b77" stroke-width="2"/>
<line x1="557.0" y1="236.2" x2="557.0" y2="292.0"/>
<rect x="555.0" y="239.8" width="4" height="31.8" fill="#3a866b" stroke-width="2"/>
<line x1="565.0" y1="241.2" x2="565.0" y2="273.0"/>
<rect x="563.0" y="250.5" width="4" height="15.5" fill="#be6b77" stroke-width="2"/>
<line x1="575.0" y1="248.8" x2="575.0" y2="275.8"/>
<rect x="573.0" y="251.8" width="4" height="16.5" fill="#3a866b" stroke-width="2"/>
<line x1="585.0" y1="202.5" x2="585.0" y2="243.8"/>
<rect x="583.0" y="212.2" width="4" height="26.0" fill="#3a866b" stroke-width="2"/>
<line x1="593.0" y1="194.5" x2="593.0" y2="240.0"/>
<rect x="591.0" y="221.1" width="4" height="4.0" fill="#3a866b" stroke-width="2"/>
<line x1="603.0" y1="186.2" x2="603.0" y2="220.0"/>
<rect x="601.0" y="208.2" width="4" height="4.0" fill="#be6b77" stroke-width="2"/>
<line x1="611.0" y1="212.5" x2="611.0" y2="237.5"/>
<rect x="609.0" y="216.0" width="4" height="8.0" fill="#3a866b" stroke-width="2"/>
<line x1="621.0" y1="216.2" x2="621.0" y2="251.2"/>
<rect x="619.0" y="223.5" width="4" height="10.5" fill="#be6b77" stroke-width="2"/>
<line x1="631.0" y1="256.2" x2="631.0" y2="293.2"/>
<rect x="629.0" y="259.0" width="4" height="13.0" fill="#be6b77" stroke-width="2"/>
<line x1="639.0" y1="273.8" x2="639.0" y2="305.8"/>
<rect x="637.0" y="278.0" width="4" height="8.5" fill="#be6b77" stroke-width="2"/>
<line x1="649.0" y1="286.2" x2="649.0" y2="309.5"/>
<rect x="647.0" y="298.0" width="4" height="4.8" fill="#3a866b" stroke-width="2"/>
<line x1="657.0" y1="292.5" x2="657.0" y2="370.0"/>
<rect x="655.0" y="298.0" width="4" height="59.8" fill="#be6b77" stroke-width="2"/>
<line x1="667.0" y1="338.8" x2="667.0" y2="389.5"/>
<rect x="665.0" y="341.8" width="4" height="10.2" fill="#3a866b" stroke-width="2"/>
<line x1="677.0" y1="344.5" x2="677.0" y2="365.8"/>
<rect x="675.0" y="353.0" width="4" height="4.0" fill="#be6b77" stroke-width="2"/>
<line x1="685.0" y1="304.5" x2="685.0" y2="372.0"/>
<rect x="683.0" y="309.8" width="4" height="51.8" fill="#3a866b" stroke-width="2"/>
<line x1="695.0" y1="324.5" x2="695.0" y2="355.8"/>
<rect x="693.0" y="340.9" width="4" height="2.0" fill="#000000" stroke-width="2"/>
<line x1="703.0" y1="322.5" x2="703.0" y2="352.0"/>
<rect x="701.0" y="325.5" width="4" height="21.0" fill="#3a866b" stroke-width="2"/>
<line x1="713.0" y1="322.0" x2="713.0" y2="347.5"/>
<rect x="711.0" y="331.8" width="4" height="12.8" fill="#be6b77" stroke-width="2"/>
<line x1="723.0" y1="332.5" x2="723.0" y2="362.0"/>
<rect x="721.0" y="337.2" width="4" height="15.5" fill="#be6b77" stroke-width="2"/>
<line x1="731.0" y1="352.5" x2="731.0" y2="372.0"/>
<line x1="727.8" y1="364.5" x2="734.2" y2="364.5" stroke="#7a2a35" stroke-width="1.8"/>
<line x1="741.0" y1="330.0" x2="741.0" y2="373.8"/>
<rect x="739.0" y="349.8" width="4" height="12.5" fill="#3a866b" stroke-width="2"/>
<line x1="749.0" y1="340.5" x2="749.0" y2="383.8"/>
<rect x="747.0" y="349.8" width="4" height="24.2" fill="#be6b77" stroke-width="2"/>
<line x1="759.0" y1="370.5" x2="759.0" y2="410.0"/>
<rect x="757.0" y="377.0" width="4" height="4.0" fill="#be6b77" stroke-width="2"/>
<line x1="769.0" y1="358.0" x2="769.0" y2="404.2"/>
<line x1="765.8" y1="362.5" x2="772.2" y2="362.5" stroke="#2d6650" stroke-width="1.8"/>
<line x1="777.0" y1="368.8" x2="777.0" y2="400.0"/>
<rect x="775.0" y="376.5" width="4" height="4.0" fill="#3a866b" stroke-width="2"/>
<line x1="787.0" y1="372.0" x2="787.0" y2="391.2"/>
<rect x="785.0" y="376.8" width="4" height="2.0" fill="#000000" stroke-width="2"/>
<line x1="795.0" y1="352.5" x2="795.0" y2="400.0"/>
<rect x="793.0" y="371.8" width="4" height="12.2" fill="#be6b77" stroke-width="2"/>
<line x1="805.0" y1="378.2" x2="805.0" y2="398.0"/>
<line x1="801.8" y1="384.5" x2="808.2" y2="384.5" stroke="#7a2a35" stroke-width="1.8"/>
<line x1="815.0" y1="362.5" x2="815.0" y2="383.8"/>
<rect x="813.0" y="373.5" width="4" height="4.0" fill="#3a866b" stroke-width="2"/>
<line x1="823.0" y1="375.0" x2="823.0" y2="404.2"/>
<rect x="821.0" y="378.5" width="4" height="2.0" fill="#000000" stroke-width="2"/>
<line x1="833.0" y1="362.5" x2="833.0" y2="391.2"/>
<rect x="831.0" y="365.5" width="4" height="10.5" fill="#3a866b" stroke-width="2"/>
<line x1="841.0" y1="352.5" x2="841.0" y2="396.2"/>
<rect x="839.0" y="364.2" width="4" height="11.8" fill="#be6b77" stroke-width="2"/>
<line x1="851.0" y1="308.0" x2="851.0" y2="365.8"/>
<rect x="849.0" y="331.8" width="4" height="28.5" fill="#3a866b" stroke-width="2"/>
<line x1="861.0" y1="317.5" x2="861.0" y2="360.0"/>
<rect x="859.0" y="335.5" width="4" height="4.0" fill="#be6b77" stroke-width="2"/>
<line x1="869.0" y1="348.8" x2="869.0" y2="382.0"/>
<rect x="867.0" y="359.2" width="4" height="2.0" fill="#000000" stroke-width="2"/>
<line x1="879.0" y1="355.0" x2="879.0" y2="383.8"/>
<rect x="877.0" y="359.0" width="4" height="21.2" fill="#be6b77" stroke-width="2"/>
<line x1="887.0" y1="358.8" x2="887.0" y2="395.0"/>
<rect x="885.0" y="376.0" width="4" height="16.8" fill="#be6b77" stroke-width="2"/>
<line x1="897.0" y1="410.0" x2="897.0" y2="479.5"/>
<rect x="895.0" y="413.5" width="4" height="38.5" fill="#be6b77" stroke-width="2"/>
<line x1="907.0" y1="430.5" x2="907.0" y2="465.5"/>
<rect x="905.0" y="434.0" width="4" height="18.8" fill="#3a866b" stroke-width="2"/>
<line x1="915.0" y1="382.5" x2="915.0" y2="428.0"/>
<rect x="913.0" y="387.2" width="4" height="31.8" fill="#3a866b" stroke-width="2"/>
<line x1="925.0" y1="390.0" x2="925.0" y2="413.8"/>
<rect x="923.0" y="397.1" width="4" height="2.0" fill="#000000" stroke-width="2"/>
<line x1="933.0" y1="342.5" x2="933.0" y2="375.5"/>
<rect x="931.0" y="358.0" width="4" height="11.0" fill="#3a866b" stroke-width="2"/>
<line x1="943.0" y1="321.2" x2="943.0" y2="350.0"/>
<rect x="941.0" y="324.0" width="4" height="4.5" fill="#3a866b" stroke-width="2"/>
<line x1="953.0" y1="307.0" x2="953.0" y2="342.0"/>
<line x1="949.8" y1="324.5" x2="956.2" y2="324.5" stroke="#7a2a35" stroke-width="1.8"/>
<line x1="961.0" y1="292.0" x2="961.0" y2="317.5"/>
<rect x="959.0" y="298.0" width="4" height="4.2" fill="#be6b77" stroke-width="2"/>
<line x1="971.0" y1="304.5" x2="971.0" y2="383.8"/>
<rect x="969.0" y="309.0" width="4" height="70.0" fill="#be6b77" stroke-width="2"/>
<line x1="979.0" y1="360.0" x2="979.0" y2="397.5"/>
<rect x="977.0" y="364.0" width="4" height="8.2" fill="#be6b77" stroke-width="2"/>
<line x1="989.0" y1="380.5" x2="989.0" y2="410.0"/>
<rect x="987.0" y="386.0" width="4" height="14.2" fill="#be6b77" stroke-width="2"/>
<line x1="999.0" y1="395.0" x2="999.0" y2="447.5"/>
<rect x="997.0" y="396.0" width="4" height="46.8" fill="#be6b77" stroke-width="2"/>
<line x1="1007.0" y1="415.0" x2="1007.0" y2="457.5"/>
<rect x="1005.0" y="416.0" width="4" height="20.0" fill="#3a866b" stroke-width="2"/>
<line x1="1017.0" y1="422.5" x2="1017.0" y2="465.5"/>
<line x1="1013.8" y1="455.0" x2="1020.2" y2="455.0" stroke="#7a2a35" stroke-width="1.8"/>
<line x1="1025.0" y1="432.5" x2="1025.0" y2="473.8"/>
<rect x="1023.0" y="448.5" width="4" height="16.0" fill="#be6b77" stroke-width="2"/>
<line x1="1035.0" y1="452.5" x2="1035.0" y2="510.0"/>
<rect x="1033.0" y="458.0" width="4" height="44.0" fill="#be6b77" stroke-width="2"/>
<line x1="1045.0" y1="478.8" x2="1045.0" y2="520.0"/>
<rect x="1043.0" y="488.0" width="4" height="26.5" fill="#3a866b" stroke-width="2"/>
<line x1="1053.0" y1="440.5" x2="1053.0" y2="473.8"/>
<line x1="1049.8" y1="464.5" x2="1056.2" y2="464.5" stroke="#7a2a35" stroke-width="1.8"/>
<line x1="1063.0" y1="440.5" x2="1063.0" y2="481.2"/>
<rect x="1061.0" y="454.0" width="4" height="18.0" fill="#3a866b" stroke-width="2"/>
<line x1="1071.0" y1="462.5" x2="1071.0" y2="526.2"/>
<rect x="1069.0" y="478.0" width="4" height="32.2" fill="#be6b77" stroke-width="2"/>
<line x1="1081.0" y1="488.8" x2="1081.0" y2="522.0"/>
<line x1="1077.8" y1="498.8" x2="1084.2" y2="498.8" stroke="#7a2a35" stroke-width="1.8"/>
<line x1="1091.0" y1="478.8" x2="1091.0" y2="497.5"/>
<rect x="1089.0" y="484.6" width="4" height="2.0" fill="#000000" stroke-width="2"/>
<line x1="1099.0" y1="458.8" x2="1099.0" y2="477.5"/>
<rect x="1097.0" y="459.8" width="4" height="8.0" fill="#be6b77" stroke-width="2"/>
<line x1="1109.0" y1="464.5" x2="1109.0" y2="503.8"/>
<rect x="1107.0" y="471.5" width="4" height="27.0" fill="#be6b77" stroke-width="2"/>
<line x1="1117.0" y1="496.2" x2="1117.0" y2="533.8"/>
<rect x="1115.0" y="503.5" width="4" height="22.5" fill="#be6b77" stroke-width="2"/>
<line x1="1127.0" y1="540.5" x2="1127.0" y2="597.5"/>
<rect x="1125.0" y="547.2" width="4" height="45.5" fill="#be6b77" stroke-width="2"/>
<line x1="1137.0" y1="526.2" x2="1137.0" y2="570.0"/>
<line x1="1133.8" y1="547.0" x2="1140.2" y2="547.0" stroke="#7a2a35" stroke-width="1.8"/>
<line x1="1145.0" y1="544.5" x2="1145.0" y2="579.5"/>
<line x1="1141.8" y1="563.0" x2="1148.2" y2="563.0" stroke="#7a2a35" stroke-width="1.8"/>
<line x1="1155.0" y1="582.5" x2="1155.0" y2="625.8"/>
<rect x="1153.0" y="594.0" width="4" height="24.5" fill="#be6b77" stroke-width="2"/>
<line x1="1163.0" y1="592.0" x2="1163.0" y2="621.8"/>
<rect x="1161.0" y="596.0" width="4" height="11.8" fill="#3a866b" stroke-width="2"/>
<line x1="1173.0" y1="603.0" x2="1173.0" y2="663.8"/>
<rect x="1171.0" y="604.0" width="4" height="48.0" fill="#be6b77" stroke-width="2"/>
<line x1="1183.0" y1="632.5" x2="1183.0" y2="720.0"/>
<rect x="1181.0" y="639.8" width="4" height="66.2" fill="#3a866b" stroke-width="2"/>
<line x1="1191.0" y1="610.8" x2="1191.0" y2="665.5"/>
<rect x="1189.0" y="611.8" width="4" height="34.2" fill="#be6b77" stroke-width="2"/>
<line x1="1201.0" y1="646.2" x2="1201.0" y2="679.5"/>
<rect x="1199.0" y="658.0" width="4" height="16.5" fill="#be6b77" stroke-width="2"/>
<line x1="1209.0" y1="662.5" x2="1209.0" y2="718.8"/>
<rect x="1207.0" y="667.2" width="4" height="31.2" fill="#be6b77" stroke-width="2"/>
<line x1="1219.0" y1="694.5" x2="1219.0" y2="769.5"/>
<rect x="1217.0" y="704.0" width="4" height="57.0" fill="#be6b77" stroke-width="2"/>
<line x1="1229.0" y1="762.5" x2="1229.0" y2="821.2"/>
<line x1="1225.8" y1="797.0" x2="1232.2" y2="797.0" stroke="#7a2a35" stroke-width="1.8"/>
<line x1="1237.0" y1="780.5" x2="1237.0" y2="841.2"/>
<rect x="1235.0" y="811.4" width="4" height="4.0" fill="#be6b77" stroke-width="2"/>
<line x1="1247.0" y1="742.5" x2="1247.0" y2="815.5"/>
<rect x="1245.0" y="771.8" width="4" height="38.5" fill="#3a866b" stroke-width="2"/>
<line x1="1255.0" y1="782.5" x2="1255.0" y2="879.5"/>
<rect x="1253.0" y="789.8" width="4" height="64.2" fill="#be6b77" stroke-width="2"/>
<line x1="1265.0" y1="827.0" x2="1265.0" y2="927.5"/>
<rect x="1263.0" y="831.8" width="4" height="66.0" fill="#be6b77" stroke-width="2"/>
<line x1="1275.0" y1="880.5" x2="1275.0" y2="953.8"/>
<rect x="1273.0" y="922.2" width="4" height="8.0" fill="#be6b77" stroke-width="2"/>
<line x1="1283.0" y1="887.0" x2="1283.0" y2="955.5"/>
<rect x="1281.0" y="891.8" width="4" height="32.2" fill="#3a866b" stroke-width="2"/>
<line x1="1293.0" y1="902.5" x2="1293.0" y2="951.2"/>
<rect x="1291.0" y="918.2" width="4" height="4.0" fill="#be6b77" stroke-width="2"/>
<line x1="1301.0" y1="884.5" x2="1301.0" y2="937.5"/>
<rect x="1299.0" y="908.0" width="4" height="6.0" fill="#3a866b" stroke-width="2"/>
<line x1="1311.0" y1="852.5" x2="1311.0" y2="911.2"/>
<rect x="1309.0" y="874.0" width="4" height="23.8" fill="#be6b77" stroke-width="2"/>
<line x1="1321.0" y1="925.0" x2="1321.0" y2="1010.0"/>
<rect x="1319.0" y="930.2" width="4" height="9.5" fill="#3a866b" stroke-width="2"/>
<line x1="1329.0" y1="848.2" x2="1329.0" y2="901.2"/>
<rect x="1327.0" y="882.2" width="4" height="11.8" fill="#3a866b" stroke-width="2"/>
<line x1="1339.0" y1="838.8" x2="1339.0" y2="897.5"/>
<rect x="1337.0" y="849.8" width="4" height="18.0" fill="#3a866b" stroke-width="2"/>
</g>
<path d="M5.0,544.0C5.8,543.7 5.3,543.7 10.0,542.0C14.7,540.3 26.4,536.5 33.0,533.8C39.6,531.1 43.9,528.2 49.4,525.6C54.9,523.0 60.4,520.7 65.9,518.2C71.4,515.7 76.4,513.4 82.4,510.8C88.4,508.2 96.0,504.4 102.0,502.5C108.0,500.6 113.6,500.7 118.6,499.2C123.6,497.7 127.7,495.3 131.8,493.5C135.9,491.7 139.5,489.8 143.3,488.5C147.2,487.2 151.3,487.1 154.9,486.0C158.5,484.9 160.8,483.8 164.7,482.0C168.5,480.2 173.6,477.0 178.0,475.3C182.4,473.6 186.1,473.8 191.0,472.0C195.9,470.2 201.5,466.9 207.6,464.6C213.7,462.3 221.3,460.3 227.3,458.0C233.3,455.7 238.3,452.7 243.8,450.6C249.3,448.6 255.6,447.5 260.3,445.7C265.0,443.9 268.0,441.4 271.8,440.0C275.6,438.6 278.7,439.1 283.4,437.4C288.1,435.7 288.9,434.4 300.0,430.0C311.1,425.6 333.3,417.5 350.0,411.0C366.7,404.5 386.7,396.0 400.0,391.0C413.3,386.0 420.8,384.5 430.0,381.0C439.2,377.5 446.7,373.3 455.0,370.0C463.3,366.7 471.7,363.9 480.0,361.0C488.3,358.1 496.7,355.1 505.0,352.5C513.3,349.9 521.7,347.6 530.0,345.5C538.3,343.4 546.7,342.1 555.0,340.0C563.3,337.9 571.7,335.1 580.0,333.0C588.3,330.9 596.7,329.2 605.0,327.5C613.3,325.8 621.7,323.8 630.0,322.5C638.3,321.2 646.7,321.1 655.0,320.0C663.3,318.9 671.7,317.5 680.0,316.0C688.3,314.5 696.7,312.0 705.0,311.0C713.3,310.0 717.5,310.1 730.0,310.0C742.5,309.9 767.5,309.7 780.0,310.5C792.5,311.3 794.6,314.1 805.0,315.0C815.4,315.9 833.3,315.6 842.5,316.0C851.7,316.4 850.8,316.4 860.0,317.5C869.2,318.6 885.0,321.3 897.5,322.5C910.0,323.7 920.4,323.8 935.0,324.5C949.6,325.2 968.3,326.1 985.0,327.0C1001.7,327.9 1022.5,329.7 1035.0,330.0C1047.5,330.3 1047.5,328.1 1060.0,328.8C1072.5,329.4 1095.4,332.2 1110.0,333.8C1124.6,335.3 1135.0,336.1 1147.5,338.0C1160.0,339.9 1172.5,343.0 1185.0,345.0C1197.5,347.0 1210.0,347.7 1222.5,350.0C1235.0,352.3 1244.6,355.3 1260.0,358.8C1275.4,362.2 1301.8,368.0 1315.0,370.8C1328.2,373.5 1335.0,374.7 1339.0,375.5" fill="none" stroke="#8a8a8a" stroke-width="1.8"/>
<path d="M5.0,422.6C6.9,421.7 11.8,419.2 16.5,416.9C21.2,414.6 27.5,411.5 33.0,409.0C38.5,406.5 43.9,404.1 49.4,401.7C54.9,399.3 61.0,396.7 65.9,394.6C70.8,392.5 75.2,390.5 79.0,389.3C82.8,388.1 84.9,388.7 89.0,387.2C93.1,385.7 99.4,382.1 103.8,380.3C108.2,378.5 111.2,377.8 115.3,376.5C119.4,375.2 124.4,373.5 128.5,372.4C132.6,371.3 135.9,371.2 140.0,370.0C144.1,368.8 149.1,366.3 153.2,365.0C157.3,363.7 160.0,363.1 164.7,362.0C169.4,360.9 175.7,359.6 181.2,358.4C186.7,357.2 193.0,356.0 197.7,354.6C202.4,353.2 205.1,351.1 209.2,350.0C213.3,348.9 218.3,348.5 222.4,347.7C226.5,346.9 229.9,346.4 234.0,345.2C238.1,343.9 243.2,341.3 247.0,340.2C250.8,339.1 252.9,339.0 257.0,338.6C261.1,338.2 266.6,338.4 271.8,337.8C277.0,337.2 283.6,335.4 288.3,334.8C293.0,334.2 293.9,334.8 300.0,334.5C306.1,334.2 316.7,332.9 325.0,333.0C333.3,333.1 341.7,334.7 350.0,335.0C358.3,335.3 366.7,335.1 375.0,335.0C383.3,334.9 391.7,335.2 400.0,334.5C408.3,333.8 413.8,332.2 425.0,331.0C436.2,329.8 454.2,328.1 467.5,327.5C480.8,326.9 492.5,328.1 505.0,327.5C517.5,326.9 530.0,325.0 542.5,323.8C555.0,322.5 569.6,321.3 580.0,320.0C590.4,318.7 596.7,316.8 605.0,316.0C613.3,315.2 617.5,315.1 630.0,315.0C642.5,314.9 663.3,315.3 680.0,315.5C696.7,315.7 715.4,315.4 730.0,316.0C744.6,316.6 755.0,318.5 767.5,319.0C780.0,319.5 790.4,319.3 805.0,319.0C819.6,318.7 841.7,317.1 855.0,317.0C868.3,316.9 877.1,318.3 885.0,318.5C892.9,318.7 894.2,318.7 902.5,318.0C910.8,317.3 925.4,315.9 935.0,314.5C944.6,313.1 949.6,310.5 960.0,309.5C970.4,308.5 985.0,309.5 997.5,308.8C1010.0,308.0 1024.6,305.6 1035.0,305.0C1045.4,304.4 1049.6,304.6 1060.0,305.0C1070.4,305.4 1085.0,306.5 1097.5,307.5C1110.0,308.5 1122.5,309.6 1135.0,310.8C1147.5,311.9 1160.0,313.7 1172.5,314.5C1185.0,315.3 1197.5,314.2 1210.0,315.5C1222.5,316.8 1235.0,319.4 1247.5,322.0C1260.0,324.6 1273.8,327.9 1285.0,331.0C1296.2,334.1 1306.0,337.6 1315.0,340.5C1324.0,343.4 1335.0,347.2 1339.0,348.5" fill="none" stroke="#2a2af5" stroke-width="2.3"/>
<path d="M4.1,429.7C6.2,427.6 11.7,421.5 16.5,416.9C21.3,412.3 27.5,406.9 33.0,402.0C38.5,397.1 44.7,390.5 49.4,387.2C54.1,383.9 56.9,384.6 61.0,382.3C65.1,380.0 69.9,376.4 74.0,373.2C78.1,370.0 81.6,366.7 85.7,363.3C89.8,359.9 93.9,356.1 98.8,352.6C103.7,349.1 109.8,345.0 115.3,342.4C120.8,339.8 126.3,339.1 131.8,337.0C137.3,334.9 142.8,331.8 148.3,329.5C153.8,327.2 159.8,324.7 164.7,323.0C169.6,321.3 173.9,319.9 178.0,319.3C182.1,318.7 185.7,319.8 189.5,319.3C193.3,318.8 196.9,318.0 201.0,316.4C205.1,314.8 210.1,311.7 214.2,309.4C218.3,307.1 221.6,304.1 225.7,302.4C229.8,300.7 233.9,300.6 238.9,299.0C243.9,297.4 250.1,295.2 255.4,292.5C260.7,289.8 266.1,285.8 270.5,283.0C274.9,280.2 277.2,278.2 281.8,276.0C286.3,273.8 292.4,272.5 298.0,270.0C303.6,267.5 309.5,263.7 315.5,261.0C321.5,258.3 329.0,255.4 334.0,253.8C339.0,252.1 341.3,252.1 345.5,251.0C349.7,249.9 353.6,248.5 359.0,247.0C364.4,245.5 371.1,243.6 378.0,242.0C384.9,240.4 394.2,239.1 400.5,237.5C406.8,235.9 409.2,234.5 415.5,232.5C421.8,230.5 432.8,227.0 438.0,225.6C443.2,224.2 442.5,224.8 447.0,224.0C451.5,223.2 457.4,221.5 465.0,221.0C472.6,220.5 483.8,220.4 492.5,220.8C501.2,221.1 509.2,222.4 517.5,223.0C525.8,223.6 533.8,223.7 542.5,224.5C551.2,225.3 561.7,228.1 570.0,228.0C578.3,227.9 584.6,224.8 592.5,223.8C600.4,222.7 608.3,221.9 617.5,221.5C626.7,221.1 639.2,220.8 647.5,221.5C655.8,222.2 660.0,224.4 667.5,226.0C675.0,227.6 684.2,229.5 692.5,231.0C700.8,232.5 709.2,233.8 717.5,235.0C725.8,236.2 734.2,236.5 742.5,238.0C750.8,239.5 759.2,241.8 767.5,244.0C775.8,246.2 784.2,248.7 792.5,251.0C800.8,253.3 809.2,255.7 817.5,258.0C825.8,260.3 835.4,262.6 842.5,265.0C849.6,267.4 852.9,268.3 860.0,272.5C867.1,276.7 877.5,284.9 885.0,290.0C892.5,295.1 896.7,298.8 905.0,303.0C913.3,307.2 925.8,312.0 935.0,315.5C944.2,319.0 951.7,320.9 960.0,323.8C968.3,326.6 976.7,329.2 985.0,332.5C993.3,335.8 1001.7,340.0 1010.0,343.8C1018.3,347.5 1026.7,350.8 1035.0,355.0C1043.3,359.2 1051.7,364.1 1060.0,368.8C1068.3,373.4 1076.7,378.7 1085.0,383.0C1093.3,387.3 1101.7,390.8 1110.0,394.5C1118.3,398.2 1126.7,401.1 1135.0,405.0C1143.3,408.9 1151.7,413.2 1160.0,418.0C1168.3,422.8 1176.7,428.8 1185.0,433.8C1193.3,438.7 1201.7,441.9 1210.0,447.5C1218.3,453.1 1226.7,460.4 1235.0,467.5C1243.3,474.6 1251.7,482.3 1260.0,490.0C1268.3,497.7 1275.8,504.4 1285.0,513.8C1294.2,523.1 1306.0,536.4 1315.0,546.0C1324.0,555.6 1335.0,567.2 1339.0,571.5" fill="none" stroke="#08f512" stroke-opacity="0.95" stroke-width="3.9" stroke-linecap="round"/>
<line x1="-10" y1="567.2" x2="1878" y2="567.2" stroke="rgb(42,195,148)" stroke-opacity="0.75" stroke-width="4.2"/>
<line x1="-10" y1="843" x2="1878" y2="843" stroke="#3c85cd" stroke-width="4.2"/>
<line x1="230" y1="1015.3" x2="1872" y2="1015.3" stroke="#f26464" stroke-width="3.8" stroke-dasharray="12.5 7.5" stroke-dashoffset="10"/>
<line x1="1338.8" y1="823.2" x2="1366.1" y2="778.6" stroke="#3f9073" stroke-width="5.8" stroke-linecap="round"/>
<line x1="1366.1" y1="778.6" x2="1384.9" y2="803.2" stroke="#d07886" stroke-width="5.8" stroke-linecap="round"/>
<line x1="1384.9" y1="803.2" x2="1429.9" y2="702.7" stroke="#3f9073" stroke-width="5.8" stroke-linecap="round"/>
<line x1="1429.9" y1="702.7" x2="1476.8" y2="741.1" stroke="#d07886" stroke-width="5.8" stroke-linecap="round"/>
<line x1="1476.8" y1="741.1" x2="1541.4" y2="593" stroke="#3f9073" stroke-width="5.8" stroke-linecap="round"/>
<path d="M1516.5,611 L1541.4,593 L1543.7,622.3" fill="none" stroke="#3f9073" stroke-width="5.8" stroke-linecap="round" stroke-linejoin="round"/>
<rect x="2.2" y="1695.0" width="5.6" height="15.6" fill="#55c9a2"/>
<rect x="12.2" y="1692.5" width="5.6" height="18.1" fill="#55c9a2"/>
<rect x="20.2" y="1692.5" width="5.6" height="18.1" fill="#55c9a2"/>
<rect x="30.2" y="1696.2" width="5.6" height="14.3" fill="#55c9a2"/>
<rect x="38.2" y="1696.2" width="5.6" height="14.3" fill="#55c9a2"/>
<rect x="48.2" y="1702.0" width="5.6" height="8.6" fill="#55c9a2"/>
<rect x="58.2" y="1707.5" width="5.6" height="3.1" fill="#55c9a2"/>
<rect x="66.2" y="1710.6" width="5.6" height="1.9" fill="#f06262"/>
<rect x="76.2" y="1710.6" width="5.6" height="4.4" fill="#f06262"/>
<rect x="84.2" y="1710.6" width="5.6" height="5.7" fill="#f06262"/>
<rect x="94.2" y="1710.6" width="5.6" height="9.4" fill="#f06262"/>
<rect x="104.2" y="1710.6" width="5.6" height="13.2" fill="#f06262"/>
<rect x="112.2" y="1710.6" width="5.6" height="23.2" fill="#f06262"/>
<rect x="122.2" y="1710.6" width="5.6" height="29.4" fill="#f06262"/>
<rect x="130.2" y="1710.6" width="5.6" height="33.7" fill="#f06262"/>
<rect x="140.2" y="1710.6" width="5.6" height="33.7" fill="#f06262"/>
<rect x="150.2" y="1710.6" width="5.6" height="33.7" fill="#f06262"/>
<rect x="158.2" y="1710.6" width="5.6" height="31.4" fill="#f06262"/>
<rect x="168.2" y="1710.6" width="5.6" height="23.7" fill="#f06262"/>
<rect x="176.2" y="1710.6" width="5.6" height="21.4" fill="#f06262"/>
<rect x="186.2" y="1710.6" width="5.6" height="21.4" fill="#f06262"/>
<rect x="196.2" y="1710.6" width="5.6" height="19.4" fill="#f06262"/>
<rect x="204.2" y="1710.6" width="5.6" height="13.2" fill="#f06262"/>
<rect x="214.2" y="1710.6" width="5.6" height="6.9" fill="#f06262"/>
<rect x="222.2" y="1710.6" width="5.6" height="5.7" fill="#f06262"/>
<rect x="232.2" y="1710.6" width="5.6" height="6.9" fill="#f06262"/>
<rect x="242.2" y="1710.6" width="5.6" height="5.2" fill="#f06262"/>
<rect x="250.2" y="1710.6" width="5.6" height="5.2" fill="#f06262"/>
<rect x="260.2" y="1710.6" width="5.6" height="6.9" fill="#f06262"/>
<rect x="268.2" y="1710.6" width="5.6" height="9.4" fill="#f06262"/>
<rect x="278.2" y="1710.6" width="5.6" height="9.4" fill="#f06262"/>
<rect x="288.2" y="1710.6" width="5.6" height="11.4" fill="#f06262"/>
<rect x="296.2" y="1710.6" width="5.6" height="9.4" fill="#f06262"/>
<rect x="306.2" y="1710.6" width="5.6" height="3.2" fill="#f06262"/>
<rect x="314.2" y="1710.6" width="5.6" height="0.7" fill="#f06262"/>
<rect x="334.2" y="1706.2" width="5.6" height="4.3" fill="#55c9a2"/>
<rect x="352.2" y="1705.5" width="5.6" height="5.1" fill="#55c9a2"/>
<rect x="360.2" y="1702.5" width="5.6" height="8.1" fill="#55c9a2"/>
<rect x="370.2" y="1702.0" width="5.6" height="8.6" fill="#55c9a2"/>
<rect x="380.2" y="1704.5" width="5.6" height="6.1" fill="#55c9a2"/>
<rect x="388.2" y="1700.0" width="5.6" height="10.6" fill="#55c9a2"/>
<rect x="398.2" y="1696.2" width="5.6" height="14.3" fill="#55c9a2"/>
<rect x="406.2" y="1692.0" width="5.6" height="18.6" fill="#55c9a2"/>
<rect x="416.2" y="1686.2" width="5.6" height="24.3" fill="#55c9a2"/>
<rect x="426.2" y="1686.2" width="5.6" height="24.3" fill="#55c9a2"/>
<rect x="434.2" y="1684.5" width="5.6" height="26.1" fill="#55c9a2"/>
<rect x="444.2" y="1686.2" width="5.6" height="24.3" fill="#55c9a2"/>
<rect x="452.2" y="1696.2" width="5.6" height="14.3" fill="#55c9a2"/>
<rect x="462.2" y="1704.5" width="5.6" height="6.1" fill="#55c9a2"/>
<rect x="472.2" y="1708.5" width="5.6" height="2.1" fill="#55c9a2"/>
<rect x="480.2" y="1710.6" width="5.6" height="4.9" fill="#f06262"/>
<rect x="490.2" y="1710.6" width="5.6" height="8.9" fill="#f06262"/>
<rect x="498.2" y="1710.6" width="5.6" height="14.9" fill="#f06262"/>
<rect x="508.2" y="1710.6" width="5.6" height="16.9" fill="#f06262"/>
<rect x="518.2" y="1710.6" width="5.6" height="20.7" fill="#f06262"/>
<rect x="526.2" y="1710.6" width="5.6" height="23.2" fill="#f06262"/>
<rect x="536.2" y="1710.6" width="5.6" height="20.7" fill="#f06262"/>
<rect x="544.2" y="1710.6" width="5.6" height="29.4" fill="#f06262"/>
<rect x="554.2" y="1710.6" width="5.6" height="26.9" fill="#f06262"/>
<rect x="562.2" y="1710.6" width="5.6" height="26.9" fill="#f06262"/>
<rect x="572.2" y="1710.6" width="5.6" height="24.4" fill="#f06262"/>
<rect x="582.2" y="1710.6" width="5.6" height="14.9" fill="#f06262"/>
<rect x="590.2" y="1710.6" width="5.6" height="10.7" fill="#f06262"/>
<rect x="600.2" y="1710.6" width="5.6" height="6.9" fill="#f06262"/>
<rect x="608.2" y="1710.6" width="5.6" height="4.9" fill="#f06262"/>
<rect x="618.2" y="1710.6" width="5.6" height="4.4" fill="#f06262"/>
<rect x="628.2" y="1710.6" width="5.6" height="8.2" fill="#f06262"/>
<rect x="636.2" y="1710.6" width="5.6" height="13.2" fill="#f06262"/>
<rect x="646.2" y="1710.6" width="5.6" height="14.9" fill="#f06262"/>
<rect x="654.2" y="1710.6" width="5.6" height="23.2" fill="#f06262"/>
<rect x="664.2" y="1710.6" width="5.6" height="23.9" fill="#f06262"/>
<rect x="674.2" y="1710.6" width="5.6" height="24.9" fill="#f06262"/>
<rect x="682.2" y="1710.6" width="5.6" height="17.4" fill="#f06262"/>
<rect x="692.2" y="1710.6" width="5.6" height="16.9" fill="#f06262"/>
<rect x="700.2" y="1710.6" width="5.6" height="12.4" fill="#f06262"/>
<rect x="710.2" y="1710.6" width="5.6" height="10.7" fill="#f06262"/>
<rect x="720.2" y="1710.6" width="5.6" height="9.4" fill="#f06262"/>
<rect x="728.2" y="1710.6" width="5.6" height="8.9" fill="#f06262"/>
<rect x="738.2" y="1710.6" width="5.6" height="7.4" fill="#f06262"/>
<rect x="746.2" y="1710.6" width="5.6" height="6.9" fill="#f06262"/>
<rect x="756.2" y="1710.6" width="5.6" height="6.9" fill="#f06262"/>
<rect x="766.2" y="1710.6" width="5.6" height="3.2" fill="#f06262"/>
<rect x="774.2" y="1710.6" width="5.6" height="1.4" fill="#f06262"/>
<rect x="784.2" y="1710.6" width="5.6" height="0.9" fill="#f06262"/>
<rect x="792.2" y="1710.6" width="5.6" height="0.9" fill="#f06262"/>
<rect x="812.2" y="1708.8" width="5.6" height="1.8" fill="#55c9a2"/>
<rect x="820.2" y="1706.8" width="5.6" height="3.8" fill="#55c9a2"/>
<rect x="830.2" y="1705.0" width="5.6" height="5.6" fill="#55c9a2"/>
<rect x="838.2" y="1705.0" width="5.6" height="5.6" fill="#55c9a2"/>
<rect x="848.2" y="1698.8" width="5.6" height="11.8" fill="#55c9a2"/>
<rect x="858.2" y="1696.8" width="5.6" height="13.8" fill="#55c9a2"/>
<rect x="866.2" y="1696.8" width="5.6" height="13.8" fill="#55c9a2"/>
<rect x="876.2" y="1700.5" width="5.6" height="10.1" fill="#55c9a2"/>
<rect x="884.2" y="1704.5" width="5.6" height="6.1" fill="#55c9a2"/>
<rect x="894.2" y="1710.6" width="5.6" height="1.4" fill="#f06262"/>
<rect x="904.2" y="1710.6" width="5.6" height="3.7" fill="#f06262"/>
<rect x="922.2" y="1708.8" width="5.6" height="1.8" fill="#55c9a2"/>
<rect x="930.2" y="1704.5" width="5.6" height="6.1" fill="#55c9a2"/>
<rect x="940.2" y="1696.8" width="5.6" height="13.8" fill="#55c9a2"/>
<rect x="950.2" y="1692.5" width="5.6" height="18.1" fill="#55c9a2"/>
<rect x="958.2" y="1688.2" width="5.6" height="22.3" fill="#55c9a2"/>
<rect x="968.2" y="1696.8" width="5.6" height="13.8" fill="#55c9a2"/>
<rect x="976.2" y="1700.5" width="5.6" height="10.1" fill="#55c9a2"/>
<rect x="986.2" y="1706.8" width="5.6" height="3.8" fill="#55c9a2"/>
<rect x="996.2" y="1710.6" width="5.6" height="3.2" fill="#f06262"/>
<rect x="1004.2" y="1710.6" width="5.6" height="3.2" fill="#f06262"/>
<rect x="1014.2" y="1710.6" width="5.6" height="9.4" fill="#f06262"/>
<rect x="1022.2" y="1710.6" width="5.6" height="11.9" fill="#f06262"/>
<rect x="1032.2" y="1710.6" width="5.6" height="17.7" fill="#f06262"/>
<rect x="1042.2" y="1710.6" width="5.6" height="17.7" fill="#f06262"/>
<rect x="1050.2" y="1710.6" width="5.6" height="13.7" fill="#f06262"/>
<rect x="1060.2" y="1710.6" width="5.6" height="9.4" fill="#f06262"/>
<rect x="1068.2" y="1710.6" width="5.6" height="11.4" fill="#f06262"/>
<rect x="1078.2" y="1710.6" width="5.6" height="11.4" fill="#f06262"/>
<rect x="1088.2" y="1710.6" width="5.6" height="9.4" fill="#f06262"/>
<rect x="1096.2" y="1710.6" width="5.6" height="3.2" fill="#f06262"/>
<rect x="1106.2" y="1710.6" width="5.6" height="3.2" fill="#f06262"/>
<rect x="1114.2" y="1710.6" width="5.6" height="4.9" fill="#f06262"/>
<rect x="1124.2" y="1710.6" width="5.6" height="11.4" fill="#f06262"/>
<rect x="1134.2" y="1710.6" width="5.6" height="9.4" fill="#f06262"/>
<rect x="1142.2" y="1710.6" width="5.6" height="9.4" fill="#f06262"/>
<rect x="1152.2" y="1710.6" width="5.6" height="11.4" fill="#f06262"/>
<rect x="1160.2" y="1710.6" width="5.6" height="11.4" fill="#f06262"/>
<rect x="1170.2" y="1710.6" width="5.6" height="13.2" fill="#f06262"/>
<rect x="1180.2" y="1710.6" width="5.6" height="13.2" fill="#f06262"/>
<rect x="1188.2" y="1710.6" width="5.6" height="11.4" fill="#f06262"/>
<rect x="1198.2" y="1710.6" width="5.6" height="11.4" fill="#f06262"/>
<rect x="1206.2" y="1710.6" width="5.6" height="13.2" fill="#f06262"/>
<rect x="1216.2" y="1710.6" width="5.6" height="14.9" fill="#f06262"/>
<rect x="1226.2" y="1710.6" width="5.6" height="17.4" fill="#f06262"/>
<rect x="1234.2" y="1710.6" width="5.6" height="19.4" fill="#f06262"/>
<rect x="1244.2" y="1710.6" width="5.6" height="15.7" fill="#f06262"/>
<rect x="1252.2" y="1710.6" width="5.6" height="15.7" fill="#f06262"/>
<rect x="1262.2" y="1710.6" width="5.6" height="17.4" fill="#f06262"/>
<rect x="1272.2" y="1710.6" width="5.6" height="19.4" fill="#f06262"/>
<rect x="1280.2" y="1710.6" width="5.6" height="15.7" fill="#f06262"/>
<rect x="1290.2" y="1710.6" width="5.6" height="11.4" fill="#f06262"/>
<rect x="1298.2" y="1710.6" width="5.6" height="7.4" fill="#f06262"/>
<rect x="1308.2" y="1710.6" width="5.6" height="3.2" fill="#f06262"/>
<rect x="1318.2" y="1710.6" width="5.6" height="1.4" fill="#f06262"/>
<rect x="1326.2" y="1706.8" width="5.6" height="3.8" fill="#55c9a2"/>
<rect x="1336.2" y="1702.0" width="5.6" height="8.6" fill="#55c9a2"/>
<path d="M4.5,1629.5C7.9,1627.9 18.7,1622.8 25.0,1620.0C31.3,1617.2 36.7,1614.8 42.5,1613.0C48.3,1611.2 53.3,1609.5 60.0,1609.2C66.7,1609.0 75.0,1610.1 82.5,1611.2C90.0,1612.4 98.8,1613.5 105.0,1616.2C111.2,1619.0 114.2,1622.7 120.0,1627.5C125.8,1632.3 133.3,1639.2 140.0,1645.0C146.7,1650.8 155.0,1658.4 160.0,1662.5C165.0,1666.6 166.7,1667.5 170.0,1669.5C173.3,1671.5 176.7,1672.5 180.0,1674.5C183.3,1676.5 185.4,1678.8 190.0,1681.2C194.6,1683.7 202.5,1687.4 207.5,1689.2C212.5,1691.1 215.0,1691.8 220.0,1692.5C225.0,1693.2 231.7,1692.9 237.5,1693.8C243.3,1694.6 248.8,1696.1 255.0,1697.5C261.2,1698.9 268.3,1700.5 275.0,1702.0C281.7,1703.5 289.6,1705.0 295.0,1706.2C300.4,1707.5 302.5,1708.8 307.5,1709.2C312.5,1709.7 318.8,1709.2 325.0,1708.8C331.2,1708.3 338.8,1707.6 345.0,1706.8C351.2,1705.9 356.2,1705.1 362.5,1703.8C368.8,1702.4 376.2,1700.6 382.5,1698.8C388.8,1696.9 393.8,1695.6 400.0,1692.5C406.2,1689.4 413.3,1684.4 420.0,1680.0C426.7,1675.6 434.6,1669.6 440.0,1666.2C445.4,1662.9 448.3,1661.5 452.5,1660.0C456.7,1658.5 460.8,1657.9 465.0,1657.5C469.2,1657.1 473.3,1657.2 477.5,1657.5C481.7,1657.8 484.6,1657.9 490.0,1659.5C495.4,1661.1 503.8,1663.9 510.0,1667.0C516.2,1670.1 521.7,1674.4 527.5,1678.0C533.3,1681.6 540.0,1685.3 545.0,1688.8C550.0,1692.2 552.5,1695.0 557.5,1698.8C562.5,1702.5 569.2,1707.8 575.0,1711.2C580.8,1714.7 585.8,1717.4 592.5,1719.2C599.2,1721.1 608.8,1721.5 615.0,1722.5C621.2,1723.5 625.0,1724.0 630.0,1725.0C635.0,1726.0 640.0,1726.7 645.0,1728.8C650.0,1730.8 654.6,1734.2 660.0,1737.5C665.4,1740.8 670.4,1745.0 677.5,1748.8C684.6,1752.5 694.2,1756.7 702.5,1760.0C710.8,1763.3 720.8,1766.9 727.5,1768.8C734.2,1770.6 738.3,1770.7 742.5,1771.2C746.7,1771.8 748.3,1771.3 752.5,1772.0C756.7,1772.7 761.2,1774.9 767.5,1775.5C773.8,1776.1 783.3,1775.6 790.0,1775.5C796.7,1775.4 801.2,1775.4 807.5,1775.0C813.8,1774.6 821.7,1773.9 827.5,1773.0C833.3,1772.1 837.1,1771.2 842.5,1769.5C847.9,1767.8 855.0,1764.4 860.0,1762.5C865.0,1760.6 869.2,1759.4 872.5,1758.2C875.8,1757.1 876.7,1756.6 880.0,1755.8C883.3,1754.9 887.5,1753.0 892.5,1753.0C897.5,1753.0 903.8,1755.5 910.0,1755.8C916.2,1756.0 923.3,1756.1 930.0,1754.5C936.7,1752.9 944.2,1749.0 950.0,1746.2C955.8,1743.5 960.0,1740.5 965.0,1738.0C970.0,1735.5 975.0,1732.4 980.0,1731.2C985.0,1730.1 990.0,1731.0 995.0,1731.2C1000.0,1731.5 1005.0,1732.2 1010.0,1733.0C1015.0,1733.8 1020.0,1734.6 1025.0,1736.2C1030.0,1737.9 1035.0,1740.8 1040.0,1743.0C1045.0,1745.2 1049.2,1747.3 1055.0,1749.5C1060.8,1751.7 1067.9,1754.3 1075.0,1756.2C1082.1,1758.2 1091.2,1760.3 1097.5,1761.2C1103.8,1762.2 1107.5,1761.1 1112.5,1761.8C1117.5,1762.4 1122.1,1763.6 1127.5,1765.0C1132.9,1766.4 1139.6,1768.3 1145.0,1770.0C1150.4,1771.7 1155.0,1773.4 1160.0,1775.0C1165.0,1776.6 1170.0,1778.0 1175.0,1779.5C1180.0,1781.0 1185.4,1782.9 1190.0,1784.2C1194.6,1785.6 1197.9,1785.8 1202.5,1787.5C1207.1,1789.2 1212.1,1792.0 1217.5,1794.5C1222.9,1797.0 1228.8,1799.7 1235.0,1802.5C1241.2,1805.3 1249.6,1808.5 1255.0,1811.2C1260.4,1814.0 1262.9,1816.4 1267.5,1818.8C1272.1,1821.1 1277.1,1823.7 1282.5,1825.5C1287.9,1827.3 1294.6,1828.4 1300.0,1829.5C1305.4,1830.6 1310.4,1831.9 1315.0,1832.0C1319.6,1832.1 1323.7,1830.8 1327.5,1830.0C1331.3,1829.2 1336.2,1827.9 1338.0,1827.5" fill="none" stroke="#2222ff" stroke-width="1.9"/>
<path d="M4.5,1613.8C5.8,1612.5 9.5,1608.3 12.5,1606.2C15.5,1604.2 19.2,1602.2 22.5,1601.2C25.8,1600.3 29.2,1600.9 32.5,1600.5C35.8,1600.1 39.4,1599.0 42.5,1598.8C45.6,1598.5 48.3,1597.5 51.2,1598.8C54.2,1600.0 57.1,1603.9 60.0,1606.2C62.9,1608.6 65.4,1611.5 68.8,1613.0C72.1,1614.5 76.5,1614.3 80.0,1615.5C83.5,1616.7 86.7,1618.2 90.0,1620.0C93.3,1621.8 97.1,1624.2 100.0,1626.2C102.9,1628.3 105.0,1629.4 107.5,1632.5C110.0,1635.6 112.1,1640.4 115.0,1645.0C117.9,1649.6 121.7,1655.2 125.0,1660.0C128.3,1664.8 131.7,1669.8 135.0,1673.8C138.3,1677.7 141.7,1681.0 145.0,1683.8C148.3,1686.5 152.1,1688.2 155.0,1690.0C157.9,1691.8 159.2,1693.7 162.5,1694.5C165.8,1695.3 171.7,1694.4 175.0,1695.0C178.3,1695.6 180.0,1696.7 182.5,1698.0C185.0,1699.3 187.3,1701.8 190.0,1703.0C192.7,1704.2 195.4,1705.4 198.8,1705.0C202.1,1704.6 205.6,1701.8 210.0,1700.5C214.4,1699.2 220.8,1697.4 225.0,1697.5C229.2,1697.6 230.4,1700.6 235.0,1701.2C239.6,1701.9 247.9,1700.6 252.5,1701.2C257.1,1701.9 258.8,1703.3 262.5,1705.0C266.2,1706.7 270.4,1709.5 275.0,1711.2C279.6,1713.0 285.8,1714.9 290.0,1715.5C294.2,1716.1 296.2,1715.9 300.0,1715.0C303.8,1714.1 308.3,1711.2 312.5,1710.0C316.7,1708.8 321.0,1709.0 325.0,1707.5C329.0,1706.0 332.9,1701.6 336.2,1701.2C339.6,1700.9 341.9,1705.9 345.0,1705.5C348.1,1705.1 351.9,1700.8 355.0,1698.8C358.1,1696.7 360.8,1694.0 363.8,1693.0C366.7,1692.0 369.4,1693.5 372.5,1693.0C375.6,1692.5 379.2,1691.5 382.5,1690.0C385.8,1688.5 388.8,1686.7 392.5,1683.8C396.2,1680.8 400.6,1676.9 405.0,1672.5C409.4,1668.1 414.6,1661.3 418.8,1657.5C422.9,1653.7 426.7,1652.4 430.0,1649.5C433.3,1646.6 437.1,1641.8 438.8,1640.0C440.4,1638.2 438.8,1639.2 440.0,1638.8C441.2,1638.2 443.8,1636.0 446.2,1637.0C448.8,1638.0 451.9,1642.5 455.0,1644.5C458.1,1646.5 461.7,1647.2 465.0,1648.8C468.3,1650.3 472.1,1651.7 475.0,1653.8C477.9,1655.8 479.2,1658.3 482.5,1661.2C485.8,1664.2 490.8,1667.5 495.0,1671.2C499.2,1675.0 503.3,1679.6 507.5,1683.8C511.7,1687.9 516.2,1693.1 520.0,1696.2C523.8,1699.4 526.9,1700.7 530.0,1702.5C533.1,1704.3 535.8,1704.1 538.8,1707.0C541.7,1709.9 544.4,1716.8 547.5,1720.0C550.6,1723.2 554.2,1723.8 557.5,1726.2C560.8,1728.7 564.6,1733.0 567.5,1734.5C570.4,1736.0 572.1,1735.5 575.0,1735.0C577.9,1734.5 580.4,1732.5 585.0,1731.2C589.6,1730.0 596.7,1728.1 602.5,1727.5C608.3,1726.9 615.4,1726.5 620.0,1727.5C624.6,1728.5 626.7,1731.5 630.0,1733.8C633.3,1736.0 637.1,1739.2 640.0,1741.2C642.9,1743.3 644.6,1743.5 647.5,1746.2C650.4,1749.0 654.2,1754.2 657.5,1757.5C660.8,1760.8 664.4,1763.8 667.5,1766.2C670.6,1768.8 673.3,1771.7 676.2,1772.5C679.2,1773.3 681.9,1770.8 685.0,1771.2C688.1,1771.8 692.1,1775.2 695.0,1775.5C697.9,1775.8 699.2,1773.0 702.5,1773.0C705.8,1773.0 710.4,1774.5 715.0,1775.5C719.6,1776.5 725.8,1778.9 730.0,1779.2C734.2,1779.6 735.8,1777.5 740.0,1777.5C744.2,1777.5 750.8,1779.4 755.0,1779.5C759.2,1779.6 760.0,1778.5 765.0,1778.0C770.0,1777.5 779.2,1777.1 785.0,1776.2C790.8,1775.4 793.8,1774.1 800.0,1773.0C806.2,1771.9 817.1,1771.0 822.5,1769.5C827.9,1768.0 829.2,1765.2 832.5,1763.8C835.8,1762.2 839.2,1762.4 842.5,1760.5C845.8,1758.6 849.2,1754.8 852.5,1752.5C855.8,1750.2 859.2,1748.2 862.5,1747.0C865.8,1745.8 869.6,1745.4 872.5,1745.0C875.4,1744.6 877.5,1744.2 880.0,1744.5C882.5,1744.8 884.6,1745.0 887.5,1747.0C890.4,1749.0 894.2,1754.5 897.5,1756.2C900.8,1758.0 903.1,1757.9 907.5,1757.5C911.9,1757.1 917.9,1757.5 923.8,1753.8C929.6,1750.0 936.2,1741.1 942.5,1735.0C948.8,1728.9 955.8,1719.5 961.2,1717.0C966.7,1714.5 970.6,1718.8 975.0,1720.0C979.4,1721.2 983.3,1722.1 987.5,1724.5C991.7,1726.9 995.8,1731.7 1000.0,1734.2C1004.2,1736.8 1008.3,1737.7 1012.5,1740.0C1016.7,1742.3 1021.2,1745.2 1025.0,1748.0C1028.8,1750.8 1031.7,1754.2 1035.0,1756.8C1038.3,1759.3 1041.7,1762.2 1045.0,1763.2C1048.3,1764.3 1052.1,1763.3 1055.0,1763.0C1057.9,1762.7 1059.6,1760.8 1062.5,1761.2C1065.4,1761.7 1068.8,1764.5 1072.5,1765.5C1076.2,1766.5 1081.2,1767.2 1085.0,1767.5C1088.8,1767.8 1091.7,1767.4 1095.0,1767.0C1098.3,1766.6 1101.2,1764.8 1105.0,1765.0C1108.8,1765.2 1113.8,1766.2 1117.5,1768.0C1121.2,1769.8 1122.9,1773.6 1127.5,1775.5C1132.1,1777.4 1140.4,1777.9 1145.0,1779.5C1149.6,1781.1 1152.1,1783.8 1155.0,1785.0C1157.9,1786.2 1159.2,1785.6 1162.5,1787.0C1165.8,1788.4 1170.8,1791.7 1175.0,1793.2C1179.2,1794.8 1182.9,1795.2 1187.5,1796.2C1192.1,1797.3 1197.9,1798.0 1202.5,1799.5C1207.1,1801.0 1210.8,1802.7 1215.0,1805.5C1219.2,1808.3 1223.8,1813.3 1227.5,1816.2C1231.2,1819.2 1234.2,1821.9 1237.5,1823.0C1240.8,1824.1 1244.2,1822.2 1247.5,1823.0C1250.8,1823.8 1254.2,1825.6 1257.5,1827.5C1260.8,1829.4 1264.6,1832.5 1267.5,1834.5C1270.4,1836.5 1270.8,1838.7 1275.0,1839.5C1279.2,1840.3 1287.5,1840.0 1292.5,1839.5C1297.5,1839.0 1300.8,1837.6 1305.0,1836.2C1309.2,1834.9 1313.8,1833.1 1317.5,1831.2C1321.2,1829.4 1324.1,1827.4 1327.5,1825.0C1330.9,1822.6 1336.2,1818.3 1338.0,1817.0" fill="none" stroke="#ff2020" stroke-width="1.9"/>
<path d="M5.0,1982.9L15.0,1973.7L23.0,1973.7L33.0,1982.4L41.0,1978.7L51.0,1979.5L61.0,1997.4L69.0,1996.2L79.0,1989.2L87.0,1989.2L97.0,1999.9L107.0,2004.9L115.0,2026.9L125.0,2025.4L133.0,2029.2L143.0,2025.4L153.0,2024.9L161.0,2022.9L171.0,2012.4L179.0,2019.9L189.0,2024.9L199.0,2021.2L207.0,2013.7L217.0,2007.4L225.0,2012.4L235.0,2019.4L245.0,2014.9L253.0,2016.9L263.0,2022.4L271.0,2028.7L281.0,2029.2L291.0,2031.2L299.0,2019.9L309.0,2008.7L317.0,2004.9L327.0,2002.4L337.0,1994.9L345.0,2024.9L355.0,2003.7L363.0,2003.2L373.0,2009.2L383.0,2009.2L391.0,1996.9L401.0,1993.7L409.0,1986.2L419.0,1978.7L429.0,1984.9L437.0,1979.2L447.0,1982.9L455.0,2009.2L465.0,2007.4L475.0,2007.4L483.0,2016.9L493.0,2016.9L501.0,2022.4L511.0,2024.9L521.0,2032.9L529.0,2030.7L539.0,2024.9L547.0,2049.4L557.0,2029.2L565.0,2036.9L575.0,2030.7L585.0,2018.7L593.0,2023.2L603.0,2018.7L611.0,2022.4L621.0,2026.9L631.0,2036.9L639.0,2040.7L649.0,2043.2L657.0,2057.4L667.0,2051.2L677.0,2052.9L685.0,2034.9L695.0,2043.2L703.0,2036.9L713.0,2043.2L723.0,2043.2L731.0,2047.4L741.0,2039.2L749.0,2046.9L759.0,2046.9L769.0,2038.7L777.0,2042.9L787.0,2044.9L795.0,2044.9L805.0,2047.4L815.0,2038.7L823.0,2043.2L833.0,2032.9L841.0,2036.9L851.0,2016.9L861.0,2020.7L869.0,2029.2L879.0,2036.9L887.0,2039.2L897.0,2054.9L907.0,2044.9L915.0,2029.2L925.0,2031.2L933.0,2017.4L943.0,2007.4L953.0,2007.4L961.0,2001.2L971.0,2026.9L979.0,2024.9L989.0,2032.9L999.0,2042.9L1007.0,2032.9L1017.0,2040.7L1025.0,2045.4L1035.0,2051.2L1045.0,2044.9L1053.0,2038.7L1063.0,2032.9L1071.0,2046.9L1081.0,2042.9L1091.0,2038.7L1099.0,2032.9L1109.0,2040.7L1117.0,2046.9L1127.0,2056.9L1137.0,2042.9L1145.0,2044.9L1155.0,2054.9L1163.0,2047.4L1173.0,2056.9L1183.0,2051.2L1191.0,2052.9L1201.0,2056.2L1209.0,2060.4L1219.0,2066.2L1229.0,2070.7L1237.0,2073.2L1247.0,2058.7L1255.0,2068.7L1265.0,2072.4L1275.0,2075.4L1283.0,2064.9L1293.0,2066.9L1301.0,2063.2L1311.0,2061.9L1321.0,2064.9L1329.0,2053.7L1339.0,2045.4" fill="none" stroke="#858585" stroke-width="1.9" stroke-linejoin="round"/>
<g font-family='"Liberation Sans", sans-serif' font-size="23.7" fill="#4d4d4d">
<text x="1890.5" y="33.9">500,000</text>
<text x="1890.5" y="75.9">475,000</text>
<text x="1890.5" y="121.9">450,000</text>
<text x="1890.5" y="169.9">425,000</text>
<text x="1890.5" y="219.9">400,000</text>
<text x="1890.5" y="275.9">375,000</text>
<text x="1890.5" y="333.9">350,000</text>
<text x="1890.5" y="395.9">325,000</text>
<text x="1890.5" y="461.9">300,000</text>
<text x="1890.5" y="535.9">275,000</text>
<text x="1890.5" y="615.9">250,000</text>
<text x="1890.5" y="704.5">225,000</text>
<text x="1890.5" y="761.9">210,000</text>
<text x="1890.5" y="803.9">200,000</text>
<text x="1890.5" y="915.9">175,000</text>
<text x="1890.5" y="991.9">160,000</text>
<text x="1890.5" y="1045.9">150,000</text>
<text x="1890.5" y="1103.9">140,000</text>
<text x="1890.5" y="1197.9">125,000</text>
<text x="1890.5" y="1249.9">117,500</text>
<text x="1890.5" y="1305.9">110,000</text>
<text x="1890.5" y="1385.9">100,000</text>
<text x="1890.5" y="1429.9">95,000</text>
<text x="1890.5" y="1473.9">90,000</text>
<text x="1890.5" y="1521.9">85,000</text>
<text x="1890.5" y="1613.9">25,00</text>
<text x="1890.5" y="1675.9">10,00</text>
<text x="1890.5" y="1715.9">0,00</text>
<text x="1890.5" y="1757.9">-10,00</text>
<text x="1890.5" y="1797.9">-20,00</text>
<text x="1890.5" y="1917.9">100,00</text>
<text x="1890.5" y="1971.9">75,00</text>
<text x="1890.5" y="2023.9">50,00</text>
<text x="1890.5" y="2075.9">25,00</text>
<text x="1890.5" y="2129.9">0,00</text>
<text x="167.0" y="1570.2" text-anchor="middle">02.06.</text>
<text x="167.0" y="1878" text-anchor="middle">02.06.</text>
<text x="167.0" y="2178" text-anchor="middle">02.06.</text>
<text x="351.0" y="1570.2" text-anchor="middle">01.07.</text>
<text x="351.0" y="1878" text-anchor="middle">01.07.</text>
<text x="351.0" y="2178" text-anchor="middle">01.07.</text>
<text x="553.0" y="1570.2" text-anchor="middle">01.08.</text>
<text x="553.0" y="1878" text-anchor="middle">01.08.</text>
<text x="553.0" y="2178" text-anchor="middle">01.08.</text>
<text x="747.0" y="1570.2" text-anchor="middle">02.09.</text>
<text x="747.0" y="1878" text-anchor="middle">02.09.</text>
<text x="747.0" y="2178" text-anchor="middle">02.09.</text>
<text x="939.0" y="1570.2" text-anchor="middle">01.10.</text>
<text x="939.0" y="1878" text-anchor="middle">01.10.</text>
<text x="939.0" y="2178" text-anchor="middle">01.10.</text>
<text x="1151.0" y="1570.2" text-anchor="middle">03.11.</text>
<text x="1151.0" y="1878" text-anchor="middle">03.11.</text>
<text x="1151.0" y="2178" text-anchor="middle">03.11.</text>
<text x="1327.0" y="1570.2" text-anchor="middle">01.12.</text>
<text x="1327.0" y="1878" text-anchor="middle">01.12.</text>
<text x="1327.0" y="2178" text-anchor="middle">01.12.</text>
<text x="1530.0" y="1570.2" text-anchor="middle">2026</text>
<text x="1530.0" y="1878" text-anchor="middle">2026</text>
<text x="1530.0" y="2178" text-anchor="middle">2026</text>
<text x="1739.0" y="1570.2" text-anchor="middle">02.02.</text>
<text x="1739.0" y="1878" text-anchor="middle">02.02.</text>
<text x="1739.0" y="2178" text-anchor="middle">02.02.</text>
</g>
<rect x="1882" y="354.7" width="108" height="33.0" fill="#808080"/>
<text x="1890.5" y="379.6" font-family='"Liberation Sans", sans-serif' font-size="23.7" fill="#000" font-weight="normal">331,226</text>
<rect x="1882" y="328.2" width="108" height="33.9" fill="#0000ff"/>
<text x="1890.5" y="353.5" font-family='"Liberation Sans", sans-serif' font-size="23.7" fill="#fff" font-weight="normal">341,253</text>
<rect x="1882" y="550.4" width="108" height="33.4" fill="#00ff00"/>
<text x="1890.5" y="575.5" font-family='"Liberation Sans", sans-serif' font-size="23.7" fill="#000" font-weight="normal">262,363</text>
<rect x="1882" y="796.5" width="108" height="33.5" fill="#3f9073"/>
<text x="1890.5" y="821.6" font-family='"Liberation Sans", sans-serif' font-size="23.7" fill="#fff" font-weight="normal">188,689</text>
<rect x="1882" y="830.0" width="108" height="33.0" fill="#f2ee14"/>
<text x="1890.5" y="854.9" font-family='"Liberation Sans", sans-serif' font-size="23.7" fill="#000" font-weight="normal">188,463</text>
<rect x="1882" y="863.0" width="108" height="32.6" fill="#d07886"/>
<text x="1890.5" y="887.7" font-family='"Liberation Sans", sans-serif' font-size="23.7" fill="#fff" font-weight="normal">188,236</text>
<rect x="1882" y="1682.0" width="108" height="29.3" fill="#ff0000"/>
<text x="1890.5" y="1705.1" font-family='"Liberation Sans", sans-serif' font-size="23.7" fill="#fff" font-weight="normal">2,49865</text>
<rect x="1882" y="1796.4" width="108" height="33.0" fill="#ff0000"/>
<text x="1890.5" y="1821.3" font-family='"Liberation Sans", sans-serif' font-size="23.7" fill="#000" font-weight="normal">-25,527</text>
<rect x="1882" y="1806.2" width="108" height="33.8" fill="#0000ff"/>
<text x="1890.5" y="1831.5" font-family='"Liberation Sans", sans-serif' font-size="23.7" fill="#fff" font-weight="normal">-28,025</text>
<rect x="1882" y="2024.6" width="88.59999999999991" height="33.0" fill="#808080"/>
<text x="1890.5" y="2049.5" font-family='"Liberation Sans", sans-serif' font-size="23.7" fill="#000" font-weight="normal">37,969</text>
<g font-family='"Liberation Sans", sans-serif'>
<text id="t_macd" x="10.5" y="1716" font-size="22" fill="#555" fill-opacity="0.85">MACD: 12 | 26 | 9</text>
<text id="t_rsi" x="10.5" y="2016" font-size="22" fill="#5a5a5a" fill-opacity="0.85">RSI (Relative Strength Index): 14</text>
</g>
<svg x="-12" y="542.6" width="155.8" height="29.3" overflow="hidden"><rect x="1" y="1" width="153.8" height="27.3" fill="#ffff80" stroke="#111" stroke-width="2.2"/><text id="t_ziel" x="17" y="23.8" font-family='"Liberation Sans", sans-serif' font-size="23.7" fill="#111">Ziel @ 263,2</text></svg>
<svg x="-12" y="818.6" width="269.8" height="29.3" overflow="hidden"><rect x="1" y="1" width="267.8" height="27.3" fill="#ffff80" stroke="#111" stroke-width="2.2"/><text id="t_long" x="17" y="23.8" font-family='"Liberation Sans", sans-serif' font-size="23.7" fill="#111">long - Einstieg @ 189,7</text></svg>
<svg x="-12" y="990.7" width="237.7" height="29.3" overflow="hidden"><rect x="1" y="1" width="235.7" height="27.3" fill="#ffff80" stroke="#111" stroke-width="2.2"/><text id="t_stop" x="17" y="23.8" font-family='"Liberation Sans", sans-serif' font-size="23.7" fill="#111">Stopp Loss @ 154,7</text></svg>
</svg>
</div>
</body></html>
